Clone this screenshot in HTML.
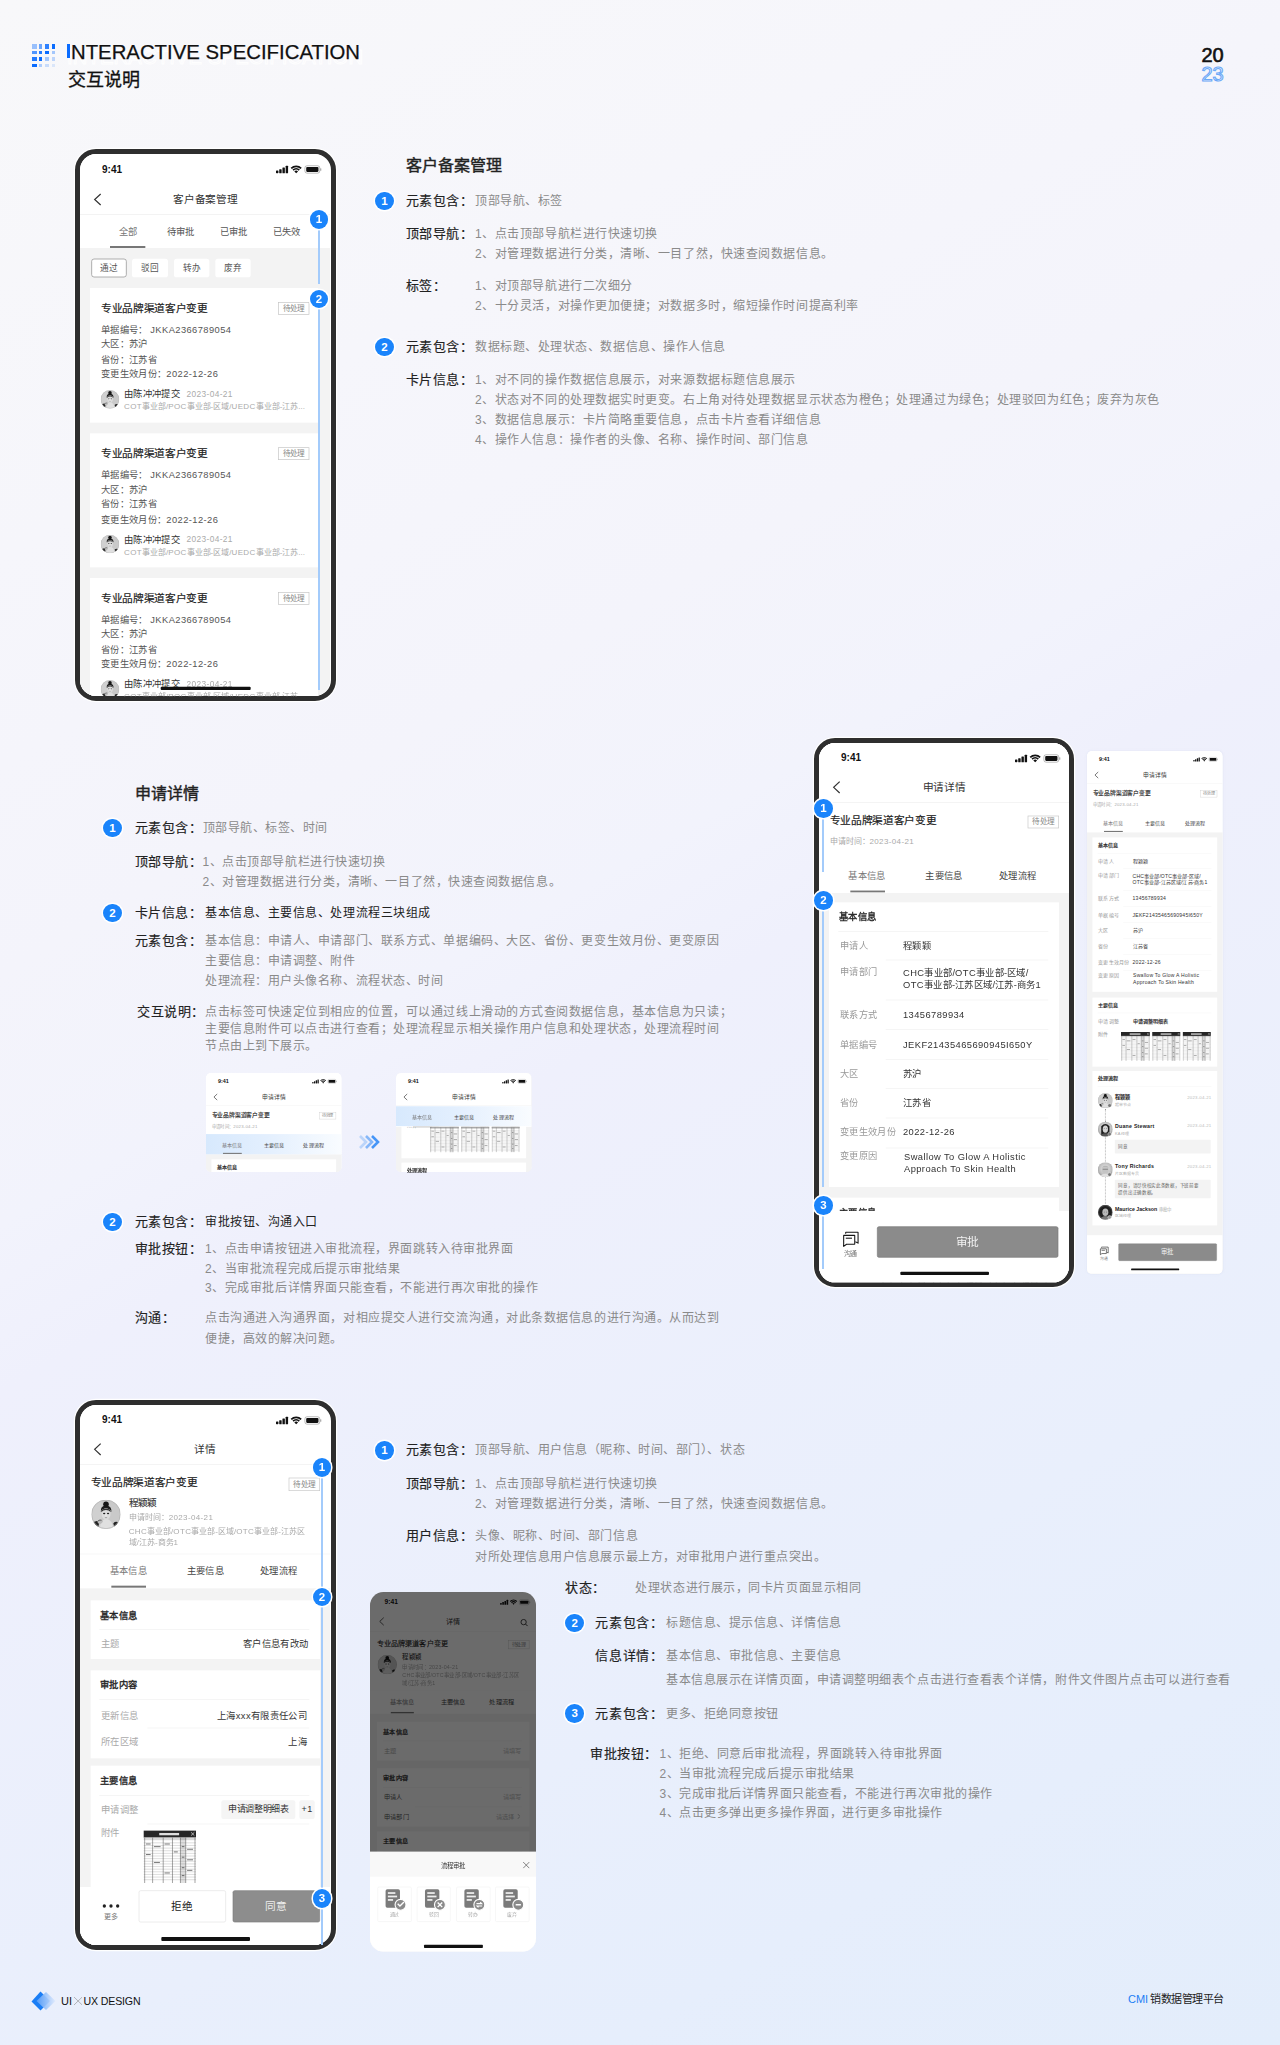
<!DOCTYPE html><html lang="zh-CN"><head><meta charset="utf-8"><style>
*{margin:0;padding:0;box-sizing:border-box}
html,body{width:1280px;height:2045px;overflow:hidden}
body{position:relative;font-family:"Liberation Sans",sans-serif;background:linear-gradient(150deg,rgb(248,248,250) 0%,rgb(246,246,251) 20%,rgb(244,244,251) 35%,rgb(242,243,252) 44%,rgb(239,240,252) 50%,rgb(233,239,252) 75%,rgb(230,238,252) 86%,rgb(227,237,251) 100%);}
body div, body svg{position:absolute;white-space:nowrap}
.scr{overflow:hidden;background:#fff}
.frame{border:5px solid #2e2e2e;box-shadow:0 0 0 1.2px rgba(255,255,255,.95)}
.bdg{border-radius:50%;background:#1a84fb;color:#fff;text-align:center;font-weight:700;font-family:"Liberation Sans",sans-serif;box-shadow:0 0 0 1.5px #fff}
.xls{background:
 linear-gradient(#2a2a2a,#2a2a2a) 0 0/100% 12% no-repeat,
 repeating-linear-gradient(0deg,#bbb 0 .5px,transparent .5px 3px),
 repeating-linear-gradient(90deg,#999 0 .6px,transparent .6px 9px),#fafafa;}
</style></head><body>
<svg style="width:0;height:0;position:absolute"><defs>
<radialGradient id="avbg" cx=".5" cy=".45" r=".6"><stop offset="0" stop-color="#f0f0f0"/><stop offset=".7" stop-color="#bdbdbd"/><stop offset="1" stop-color="#8a8a8a"/></radialGradient>
<clipPath id="avc"><circle cx="20" cy="20" r="20"/></clipPath>
<symbol id="av1" viewBox="0 0 40 40"><g clip-path="url(#avc)"><rect width="40" height="40" fill="#c9c9c9"/><rect x="0" y="0" width="14" height="40" fill="#d6d6d6" opacity=".6"/>
<path d="M0 40 L0 33 Q6 27 11 30 L9 40Z" fill="#222"/><path d="M40 40 L40 33 Q34 28 30 32 L32 40Z" fill="#222"/>
<path d="M12 40 Q12 27 20 26 Q29 27 30 40Z" fill="#e0e0e0"/>
<path d="M13 17 Q12 8 20 8 Q28 8 27.5 17 Q26 12 20 12 Q14 12 13 17Z" fill="#1c1c1c"/><circle cx="20" cy="6.2" r="3.8" fill="#151515"/>
<ellipse cx="20" cy="19.5" rx="6.2" ry="7.8" fill="#dcdcdc"/><path d="M13.5 17 Q14 12 20 12 Q26 12 26.5 17 Q24 14 20 14 Q16 14 13.5 17Z" fill="#333"/>
<ellipse cx="17.5" cy="19" rx="1.6" ry="1" fill="#222"/><ellipse cx="22.8" cy="19" rx="1.6" ry="1" fill="#222"/><path d="M20 20v3" stroke="#fff" stroke-width=".8"/><path d="M18.5 24.5h3" stroke="#777" stroke-width=".8"/>
<path d="M8 30 Q12 26 16 29 Q15 33 11 34Z" fill="#bdbdbd"/><path d="M9 29 Q12 27 14 28" stroke="#333" stroke-width="1" fill="none"/>
<circle cx="20" cy="20" r="19.6" fill="none" stroke="#aaa" stroke-width=".8"/></g></symbol>
<symbol id="av2" viewBox="0 0 40 40"><g clip-path="url(#avc)"><rect width="40" height="40" fill="#4a4a4a"/>
<circle cx="20" cy="20" r="17" fill="#1e1e1e"/><ellipse cx="20" cy="20" rx="8" ry="10" fill="#b8b8b8"/><path d="M6 40 Q10 30 20 30 Q30 30 34 40Z" fill="#777"/><ellipse cx="17" cy="19" rx="1.3" ry=".8" fill="#222"/><ellipse cx="23" cy="19" rx="1.3" ry=".8" fill="#222"/></g></symbol>
<symbol id="av3" viewBox="0 0 40 40"><g clip-path="url(#avc)"><rect width="40" height="40" fill="url(#avbg)"/>
<path d="M9 12 Q20 0 31 12 L31 36 Q20 30 9 36Z" fill="#1e1e1e"/><ellipse cx="20" cy="20" rx="7" ry="9.5" fill="#d4d4d4"/><path d="M5 40 Q10 31 20 31 Q30 31 35 40Z" fill="#555"/><ellipse cx="17" cy="19" rx="1.2" ry=".8" fill="#333"/><ellipse cx="23" cy="19" rx="1.2" ry=".8" fill="#333"/></g></symbol>
<symbol id="av4" viewBox="0 0 40 40"><g clip-path="url(#avc)"><rect width="40" height="40" fill="url(#avbg)"/>
<ellipse cx="20" cy="20" rx="9" ry="11" fill="#c4c4c4"/><path d="M11 15 Q20 6 29 15 Q25 11 20 11 Q15 11 11 15Z" fill="#888"/><path d="M13 19h14" stroke="#555" stroke-width="1.4"/><path d="M5 40 Q10 31 20 31 Q30 31 35 40Z" fill="#e0e0e0"/></g></symbol>
<symbol id="xls" viewBox="0 0 80 80" preserveAspectRatio="none"><rect width="80" height="80" fill="#fff"/><rect width="80" height="11" fill="#262626"/><rect x="24" y="4" width="30" height="3.5" fill="#ddd"/><path d="M72 3l5 5M77 3l-5 5" stroke="#eee" stroke-width="1"/>
<rect x="0" y="11" width="80" height="4" fill="#d8d8d8"/>
<g stroke="#9a9a9a" stroke-width=".5"><path d="M0 19H80M0 23H80M0 27H80M0 31H80M0 35H80M0 39H80M0 43H80M0 47H80M0 51H80M0 55H80M0 59H80M0 63H80M0 67H80M0 71H80M0 75H80"/></g>
<g stroke="#555" stroke-width=".8"><path d="M2 11V80M14 11V80M30 11V80M44 11V80M56 11V80M64 11V80M78 11V80"/></g>
<g fill="#777"><rect x="4" y="20" width="7" height="1.5"/><rect x="16" y="24" width="10" height="1.5"/><rect x="32" y="20" width="8" height="1.5"/><rect x="58" y="24" width="4" height="1.5"/><rect x="66" y="28" width="9" height="1.5"/><rect x="4" y="36" width="7" height="1.5"/><rect x="46" y="32" width="6" height="1.5"/><rect x="58" y="40" width="4" height="1.5"/><rect x="66" y="44" width="9" height="1.5"/><rect x="16" y="48" width="9" height="1.5"/><rect x="58" y="56" width="4" height="1.5"/><rect x="66" y="60" width="8" height="1.5"/><rect x="32" y="64" width="8" height="1.5"/><rect x="58" y="68" width="4" height="1.5"/></g>
<rect x="56" y="11" width="8" height="69" fill="#000" opacity=".12"/></symbol>
</defs></svg>
<div style="left:31.60px;top:44.00px;width:5.30px;height:4.90px;background:rgba(10,108,255,0.4);"></div>
<div style="left:39.10px;top:44.00px;width:2.65px;height:4.90px;background:rgba(10,108,255,0.6);"></div>
<div style="left:44.60px;top:44.00px;width:4.30px;height:4.90px;background:rgba(10,108,255,0.85);"></div>
<div style="left:52.00px;top:44.00px;width:2.60px;height:4.90px;background:rgba(10,108,255,1);"></div>
<div style="left:31.60px;top:51.25px;width:5.30px;height:2.50px;background:rgba(10,108,255,0.7);"></div>
<div style="left:39.10px;top:51.25px;width:2.65px;height:2.50px;background:rgba(10,108,255,0.9);"></div>
<div style="left:44.60px;top:51.25px;width:4.30px;height:2.50px;background:rgba(10,108,255,1);"></div>
<div style="left:52.00px;top:51.25px;width:2.60px;height:2.50px;background:rgba(10,108,255,0.35);"></div>
<div style="left:31.60px;top:56.90px;width:5.30px;height:4.10px;background:rgba(10,108,255,0.9);"></div>
<div style="left:39.10px;top:56.90px;width:2.65px;height:4.10px;background:rgba(10,108,255,1);"></div>
<div style="left:44.60px;top:56.90px;width:4.30px;height:4.10px;background:rgba(10,108,255,0.35);"></div>
<div style="left:52.00px;top:56.90px;width:2.60px;height:4.10px;background:rgba(10,108,255,0.25);"></div>
<div style="left:31.60px;top:64.00px;width:5.30px;height:2.75px;background:rgba(10,108,255,1);"></div>
<div style="left:39.10px;top:64.00px;width:2.65px;height:2.75px;background:rgba(10,108,255,0.3);"></div>
<div style="left:44.60px;top:64.00px;width:4.30px;height:2.75px;background:rgba(10,108,255,0.2);"></div>
<div style="left:52.00px;top:64.00px;width:2.60px;height:2.75px;background:rgba(10,108,255,0.12);"></div>
<div style="left:66.80px;top:44.40px;width:2.80px;height:14.10px;background:#0a6cff;"></div>
<div style="left:67.00px;top:44.50px;font-size:20.3px;line-height:24px;color:transparent;font-weight:400;letter-spacing:0.1px;-webkit-text-stroke:1px rgba(255,255,255,.9)">INTERACTIVE SPECIFICATION</div>
<div style="left:66.80px;top:44.40px;width:2.80px;height:14.10px;background:#0a6cff;"></div>
<div style="left:71.00px;top:39.50px;font-size:20.3px;line-height:24px;color:#111;font-weight:400;letter-spacing:0.04px;-webkit-text-stroke:.25px #111">NTERACTIVE SPECIFICATION</div>
<div style="left:67.50px;top:68.50px;font-size:18px;line-height:22px;color:#111;font-weight:400;-webkit-text-stroke:.3px #111">交互说明</div>
<div style="left:1201.50px;top:43.50px;font-size:20px;line-height:22px;color:#111;font-weight:400;-webkit-text-stroke:.6px #111">20</div>
<div style="left:1201.50px;top:63.00px;font-size:20px;line-height:22px;color:transparent;font-weight:400;-webkit-text-stroke:1.1px #6aa8f7">23</div>
<svg style="left:31px;top:1991px;width:26px;height:20px" viewBox="0 0 26 20"><defs><linearGradient id="lg1" x1="0" x2="1"><stop offset="0" stop-color="#5a9ff8"/><stop offset="1" stop-color="#dfeafd"/></linearGradient></defs><path d="M9.5 0.5 L19 10 L9.5 19.5 L0.5 10.5 Z" fill="#1b7ef5"/><path d="M15 1 L24.5 10 L15 19 L5.5 10 Z" fill="url(#lg1)" opacity=".9"/></svg>
<div style="left:61.00px;top:1994.00px;font-size:11px;line-height:14px;color:#111;font-weight:400;">UI</div>
<svg style="left:73.6px;top:1997px;width:8.2px;height:8px" viewBox="0 0 8.2 8"><path d="M0 0L8.2 8M8.2 0L0 8" stroke="#9a9a9a" stroke-width=".7"/></svg>
<div style="left:83.50px;top:1994.00px;font-size:10.6px;line-height:14px;color:#111;font-weight:400;letter-spacing:-.15px">UX DESIGN</div>
<div style="left:1128.00px;top:1992.00px;font-size:11px;line-height:14px;color:#1b7ef5;font-weight:400;">CMI</div>
<div style="left:1150.00px;top:1992.00px;font-size:11px;line-height:14px;color:#222;font-weight:400;letter-spacing:-.5px">销数据管理平台</div>
<div class="frame" style="left:75px;top:149px;width:261px;height:552px;border-radius:21px;background:#fff"></div>
<div style="left:80px;top:154px;width:375px;height:813px;transform:scale(0.66667);transform-origin:0 0;overflow:hidden;border-radius:24px;background:#fff">
<div style="left:33.00px;top:15.00px;font-size:15px;line-height:18px;color:#111;font-weight:700;">9:41</div>
<svg style="left:294.15px;top:16.80px;width:66.45px;height:12.08px;overflow:visible" viewBox="0 0 44 8"><g fill="#111"><rect x="0" y="5.1" width="2.4" height="2.7" rx=".6"/><rect x="3.2" y="3.8" width="2.4" height="4" rx=".5"/><rect x="6.4" y="2.1" width="2.4" height="5.7" rx=".5"/><rect x="9.6" y="0.5" width="2.4" height="7.3" rx=".5"/><path d="M18.21 6.06A2.6 2.6 0 0 1 21.89 6.06L20.05 7.9ZM16.37 4.22A5.2 5.2 0 0 1 23.73 4.22L22.52 5.43A3.5 3.5 0 0 0 17.58 5.43ZM14.53 2.38A7.8 7.8 0 0 1 25.57 2.38L24.36 3.59A6.1 6.1 0 0 0 15.74 3.59Z"/><rect x="30" y="1.7" width="12.2" height="4.8" rx="1"/></g><rect x="28.7" y="0.4" width="14.8" height="7.4" rx="2.2" fill="none" stroke="#111" stroke-opacity=".35" stroke-width=".8"/><rect x="44" y="2.9" width="1" height="2.4" rx=".5" fill="#111" opacity=".4"/></svg>
<svg style="left:22.00px;top:60.00px;width:9px;height:16.5px;overflow:visible" viewBox="0 0 9 16.5"><polyline points="9,0 0,8.25 9,16.5" fill="none" stroke="#333" stroke-width="1.8"/></svg>
<div style="left:188.00px;top:57.50px;font-size:16px;line-height:20px;color:#333;font-weight:400;transform:translateX(-50%);">客户备案管理</div>
<div style="left:0.00px;top:90.20px;width:375.00px;height:1.00px;background:#eee;"></div>
<div style="left:72.00px;top:106.50px;font-size:14px;line-height:18px;color:#777;font-weight:400;transform:translateX(-50%);">全部</div>
<div style="left:150.75px;top:106.50px;font-size:14px;line-height:18px;color:#555;font-weight:400;transform:translateX(-50%);">待审批</div>
<div style="left:230.50px;top:106.50px;font-size:14px;line-height:18px;color:#555;font-weight:400;transform:translateX(-50%);">已审批</div>
<div style="left:309.75px;top:106.50px;font-size:14px;line-height:18px;color:#555;font-weight:400;transform:translateX(-50%);">已失效</div>
<div style="left:45.00px;top:137.60px;width:52.50px;height:3.10px;background:#777;"></div>
<div style="left:0.00px;top:140.70px;width:375.00px;height:672.30px;background:#f3f3f3;"></div>
<div style="left:16.50px;top:156.50px;width:53.70px;height:28.90px;background:#fff;border:1.5px solid #8a8a8a;border-radius:4px"></div>
<div style="left:43.35px;top:163.00px;font-size:13px;line-height:16px;color:#555;font-weight:400;transform:translateX(-50%);">通过</div>
<div style="left:78.00px;top:156.50px;width:53.70px;height:28.90px;background:#fff;border-radius:4px"></div>
<div style="left:104.85px;top:163.00px;font-size:13px;line-height:16px;color:#555;font-weight:400;transform:translateX(-50%);">驳回</div>
<div style="left:140.50px;top:156.50px;width:53.70px;height:28.90px;background:#fff;border-radius:4px"></div>
<div style="left:167.35px;top:163.00px;font-size:13px;line-height:16px;color:#555;font-weight:400;transform:translateX(-50%);">转办</div>
<div style="left:202.50px;top:156.50px;width:53.70px;height:28.90px;background:#fff;border-radius:4px"></div>
<div style="left:229.35px;top:163.00px;font-size:13px;line-height:16px;color:#555;font-weight:400;transform:translateX(-50%);">废弃</div>
<div style="left:14.70px;top:201.00px;width:342.30px;height:201.60px;background:#fff;"></div>
<div style="left:31.50px;top:222.00px;font-size:16px;line-height:20px;color:#222;font-weight:400;-webkit-text-stroke:.3px #222">专业品牌渠道客户变更</div>
<div style="left:297.00px;top:222.00px;width:46.50px;height:19.00px;background:#fff;border:1.2px solid #c4c4c4"></div>
<div style="left:320.25px;top:224.50px;font-size:11.5px;line-height:14px;color:#888;font-weight:400;transform:translateX(-50%);">待处理</div>
<div style="left:31.50px;top:255.20px;font-size:14px;line-height:17px;color:#555;font-weight:400;white-space:pre">单据编号： <span style="letter-spacing:.045em">JKKA2366789054</span></div>
<div style="left:31.50px;top:277.40px;font-size:14px;line-height:17px;color:#555;font-weight:400;">大区：苏沪</div>
<div style="left:31.50px;top:299.90px;font-size:14px;line-height:17px;color:#555;font-weight:400;">省份：江苏省</div>
<div style="left:31.50px;top:322.10px;font-size:14px;line-height:17px;color:#555;font-weight:400;">变更生效月份：<span style="letter-spacing:.045em">2022-12-26</span></div>
<svg style="left:30.50px;top:353.50px;width:28px;height:28px" viewBox="0 0 40 40"><use href="#av1"/></svg>
<div style="left:66.00px;top:352.00px;font-size:14px;line-height:17px;color:#333;font-weight:400;">由陈冲冲提交</div>
<div style="left:159.75px;top:353.00px;font-size:12.5px;line-height:15px;color:#aaa;font-weight:400;"><span style="letter-spacing:.045em">2023-04-21</span></div>
<div style="left:66.00px;top:372.00px;font-size:12px;line-height:15px;color:#aaa;font-weight:400;"><span style="letter-spacing:.045em">COT</span>事业部/<span style="letter-spacing:.045em">POC</span>事业部-区域/<span style="letter-spacing:.045em">UEDC</span>事业部-江苏...</div>
<div style="left:14.70px;top:418.50px;width:342.30px;height:201.60px;background:#fff;"></div>
<div style="left:31.50px;top:439.50px;font-size:16px;line-height:20px;color:#222;font-weight:400;-webkit-text-stroke:.3px #222">专业品牌渠道客户变更</div>
<div style="left:297.00px;top:439.50px;width:46.50px;height:19.00px;background:#fff;border:1.2px solid #c4c4c4"></div>
<div style="left:320.25px;top:442.00px;font-size:11.5px;line-height:14px;color:#888;font-weight:400;transform:translateX(-50%);">待处理</div>
<div style="left:31.50px;top:472.70px;font-size:14px;line-height:17px;color:#555;font-weight:400;white-space:pre">单据编号： <span style="letter-spacing:.045em">JKKA2366789054</span></div>
<div style="left:31.50px;top:494.90px;font-size:14px;line-height:17px;color:#555;font-weight:400;">大区：苏沪</div>
<div style="left:31.50px;top:517.40px;font-size:14px;line-height:17px;color:#555;font-weight:400;">省份：江苏省</div>
<div style="left:31.50px;top:539.60px;font-size:14px;line-height:17px;color:#555;font-weight:400;">变更生效月份：<span style="letter-spacing:.045em">2022-12-26</span></div>
<svg style="left:30.50px;top:571.00px;width:28px;height:28px" viewBox="0 0 40 40"><use href="#av1"/></svg>
<div style="left:66.00px;top:569.50px;font-size:14px;line-height:17px;color:#333;font-weight:400;">由陈冲冲提交</div>
<div style="left:159.75px;top:570.50px;font-size:12.5px;line-height:15px;color:#aaa;font-weight:400;"><span style="letter-spacing:.045em">2023-04-21</span></div>
<div style="left:66.00px;top:589.50px;font-size:12px;line-height:15px;color:#aaa;font-weight:400;"><span style="letter-spacing:.045em">COT</span>事业部/<span style="letter-spacing:.045em">POC</span>事业部-区域/<span style="letter-spacing:.045em">UEDC</span>事业部-江苏...</div>
<div style="left:14.70px;top:636.00px;width:342.30px;height:201.60px;background:#fff;"></div>
<div style="left:31.50px;top:657.00px;font-size:16px;line-height:20px;color:#222;font-weight:400;-webkit-text-stroke:.3px #222">专业品牌渠道客户变更</div>
<div style="left:297.00px;top:657.00px;width:46.50px;height:19.00px;background:#fff;border:1.2px solid #c4c4c4"></div>
<div style="left:320.25px;top:659.50px;font-size:11.5px;line-height:14px;color:#888;font-weight:400;transform:translateX(-50%);">待处理</div>
<div style="left:31.50px;top:690.20px;font-size:14px;line-height:17px;color:#555;font-weight:400;white-space:pre">单据编号： <span style="letter-spacing:.045em">JKKA2366789054</span></div>
<div style="left:31.50px;top:712.40px;font-size:14px;line-height:17px;color:#555;font-weight:400;">大区：苏沪</div>
<div style="left:31.50px;top:734.90px;font-size:14px;line-height:17px;color:#555;font-weight:400;">省份：江苏省</div>
<div style="left:31.50px;top:757.10px;font-size:14px;line-height:17px;color:#555;font-weight:400;">变更生效月份：<span style="letter-spacing:.045em">2022-12-26</span></div>
<svg style="left:30.50px;top:788.50px;width:28px;height:28px" viewBox="0 0 40 40"><use href="#av1"/></svg>
<div style="left:66.00px;top:787.00px;font-size:14px;line-height:17px;color:#333;font-weight:400;">由陈冲冲提交</div>
<div style="left:159.75px;top:788.00px;font-size:12.5px;line-height:15px;color:#aaa;font-weight:400;"><span style="letter-spacing:.045em">2023-04-21</span></div>
<div style="left:66.00px;top:807.00px;font-size:12px;line-height:15px;color:#aaa;font-weight:400;"><span style="letter-spacing:.045em">COT</span>事业部/<span style="letter-spacing:.045em">POC</span>事业部-区域/<span style="letter-spacing:.045em">UEDC</span>事业部-江苏...</div>
<div style="left:121.00px;top:799.00px;width:134.50px;height:5.00px;background:#111;border-radius:1.5px"></div>
</div>
<div style="left:318.00px;top:228.00px;width:2px;height:55.50px;background:#a3cbfb"></div>
<div style="left:318.00px;top:309.00px;width:2px;height:381.00px;background:#a3cbfb"></div>
<div class="bdg" style="left:309.70px;top:210.40px;width:18.6px;height:18.6px;font-size:11.5px;line-height:18.6px">1</div>
<div class="bdg" style="left:309.70px;top:289.70px;width:18.6px;height:18.6px;font-size:11.5px;line-height:18.6px">2</div>
<div style="left:405.50px;top:155.00px;font-size:16px;line-height:22px;color:#222;font-weight:400;-webkit-text-stroke:.4px #222">客户备案管理</div>
<div class="bdg" style="left:375.10px;top:191.70px;width:18.6px;height:18.6px;font-size:11.5px;line-height:18.6px">1</div>
<div style="left:405.50px;top:192.00px;font-size:13px;line-height:18px;color:#222;font-weight:400;letter-spacing:.6px;-webkit-text-stroke:.15px #222">元素包含：</div>
<div style="left:475.00px;top:192.00px;font-size:12px;line-height:18px;color:#8a8a8a;font-weight:400;letter-spacing:.55px">顶部导航、标签</div>
<div style="left:405.50px;top:224.50px;font-size:13px;line-height:18px;color:#222;font-weight:400;letter-spacing:.6px;-webkit-text-stroke:.15px #222">顶部导航：</div>
<div style="left:475.00px;top:224.50px;font-size:12px;line-height:18px;color:#8a8a8a;font-weight:400;letter-spacing:.55px">1、点击顶部导航栏进行快速切换</div>
<div style="left:475.00px;top:244.50px;font-size:12px;line-height:18px;color:#8a8a8a;font-weight:400;letter-spacing:.55px">2、对管理数据进行分类，清晰、一目了然，快速查阅数据信息。</div>
<div style="left:405.50px;top:277.00px;font-size:13px;line-height:18px;color:#222;font-weight:400;letter-spacing:.6px;-webkit-text-stroke:.15px #222">标签：</div>
<div style="left:475.00px;top:277.00px;font-size:12px;line-height:18px;color:#8a8a8a;font-weight:400;letter-spacing:.55px">1、对顶部导航进行二次细分</div>
<div style="left:475.00px;top:297.00px;font-size:12px;line-height:18px;color:#8a8a8a;font-weight:400;letter-spacing:.55px">2、十分灵活，对操作更加便捷；对数据多时，缩短操作时间提高利率</div>
<div class="bdg" style="left:375.10px;top:337.70px;width:18.6px;height:18.6px;font-size:11.5px;line-height:18.6px">2</div>
<div style="left:405.50px;top:338.00px;font-size:13px;line-height:18px;color:#222;font-weight:400;letter-spacing:.6px;-webkit-text-stroke:.15px #222">元素包含：</div>
<div style="left:475.00px;top:338.00px;font-size:12px;line-height:18px;color:#8a8a8a;font-weight:400;letter-spacing:.55px">数据标题、处理状态、数据信息、操作人信息</div>
<div style="left:405.50px;top:371.00px;font-size:13px;line-height:18px;color:#222;font-weight:400;letter-spacing:.6px;-webkit-text-stroke:.15px #222">卡片信息：</div>
<div style="left:475.00px;top:371.00px;font-size:12px;line-height:18px;color:#8a8a8a;font-weight:400;letter-spacing:.55px">1、对不同的操作数据信息展示，对来源数据标题信息展示</div>
<div style="left:475.00px;top:391.00px;font-size:12px;line-height:18px;color:#8a8a8a;font-weight:400;letter-spacing:.55px">2、状态对不同的处理数据实时更变。右上角对待处理数据显示状态为橙色；处理通过为绿色；处理驳回为红色；废弃为灰色</div>
<div style="left:475.00px;top:411.00px;font-size:12px;line-height:18px;color:#8a8a8a;font-weight:400;letter-spacing:.55px">3、数据信息展示：卡片简略重要信息，点击卡片查看详细信息</div>
<div style="left:475.00px;top:431.00px;font-size:12px;line-height:18px;color:#8a8a8a;font-weight:400;letter-spacing:.55px">4、操作人信息：操作者的头像、名称、操作时间、部门信息</div>
<div class="frame" style="left:814px;top:738px;width:260px;height:549px;border-radius:21px;background:#fff"></div>
<div style="left:819.00px;top:743.00px;width:375px;height:808.5px;transform:scale(0.66667);transform-origin:0 0;overflow:hidden;border-radius:24px;background:#fff;">
<div style="left:0.00px;top:225.00px;width:375.00px;height:583.50px;background:#f3f3f3;"></div>
<div style="left:15.75px;top:107.00px;font-size:16px;line-height:20px;color:#222;font-weight:400;-webkit-text-stroke:.3px #222">专业品牌渠道客户变更</div>
<div style="left:312.75px;top:108.50px;width:47.00px;height:19.50px;background:#fff;border:1px solid #c8c8c8"></div>
<div style="left:336.25px;top:111.25px;font-size:11.5px;line-height:14px;color:#888;font-weight:400;transform:translateX(-50%);">待处理</div>
<div style="left:15.75px;top:139.50px;font-size:12px;line-height:15px;color:#aaa;font-weight:400;">申请时间：<span style="letter-spacing:.045em">2023-04-21</span></div>
<div style="left:0.00px;top:225.00px;width:375.00px;height:1221.00px;background:#f3f3f3;"></div>
<div style="left:15.00px;top:238.50px;width:345.00px;height:427.50px;background:#fff;"></div>
<div style="left:30.00px;top:251.40px;font-size:14px;line-height:18px;color:#222;font-weight:400;-webkit-text-stroke:.5px #222">基本信息</div>
<div style="left:28.50px;top:281.50px;width:315.00px;height:1.00px;background:#f0f0f0;"></div>
<div style="left:31.50px;top:296.00px;font-size:13.8px;line-height:17px;color:#999;font-weight:400;">申请人</div>
<div style="left:126.00px;top:296.00px;font-size:14px;line-height:17px;color:#333;font-weight:400;">程颖颖</div>
<div style="left:31.50px;top:335.00px;font-size:13.8px;line-height:17px;color:#999;font-weight:400;">申请部门</div>
<div style="left:126.00px;top:336.50px;font-size:14px;line-height:17px;color:#333;font-weight:400;"><span style="letter-spacing:.045em">CHC</span>事业部/<span style="letter-spacing:.045em">OTC</span>事业部-区域/</div>
<div style="left:126.00px;top:354.00px;font-size:14px;line-height:17px;color:#333;font-weight:400;"><span style="letter-spacing:.045em">OTC</span>事业部-江苏区域/江苏-商务<span style="letter-spacing:.045em">1</span></div>
<div style="left:31.50px;top:399.50px;font-size:13.8px;line-height:17px;color:#999;font-weight:400;">联系方式</div>
<div style="left:126.00px;top:399.50px;font-size:14px;line-height:17px;color:#333;font-weight:400;"><span style="letter-spacing:.045em">13456789934</span></div>
<div style="left:31.50px;top:444.50px;font-size:13.8px;line-height:17px;color:#999;font-weight:400;">单据编号</div>
<div style="left:126.00px;top:444.50px;font-size:14px;line-height:17px;color:#333;font-weight:400;"><span style="letter-spacing:.045em">JEKF21435465690945I650Y</span></div>
<div style="left:31.50px;top:488.00px;font-size:13.8px;line-height:17px;color:#999;font-weight:400;">大区</div>
<div style="left:126.00px;top:488.00px;font-size:14px;line-height:17px;color:#333;font-weight:400;">苏沪</div>
<div style="left:31.50px;top:532.25px;font-size:13.8px;line-height:17px;color:#999;font-weight:400;">省份</div>
<div style="left:126.00px;top:532.25px;font-size:14px;line-height:17px;color:#333;font-weight:400;">江苏省</div>
<div style="left:31.50px;top:575.00px;font-size:13.8px;line-height:17px;color:#999;font-weight:400;">变更生效月份</div>
<div style="left:126.00px;top:575.00px;font-size:14px;line-height:17px;color:#333;font-weight:400;"><span style="letter-spacing:.045em">2022-12-26</span></div>
<div style="left:31.50px;top:611.00px;font-size:13.8px;line-height:17px;color:#999;font-weight:400;">变更原因</div>
<div style="left:127.50px;top:612.50px;font-size:14px;line-height:17px;color:#333;font-weight:400;"><span style="letter-spacing:.045em">Swallow To Glow A Holistic</span></div>
<div style="left:127.50px;top:630.00px;font-size:14px;line-height:17px;color:#333;font-weight:400;"><span style="letter-spacing:.045em">Approach To Skin Health</span></div>
<div style="left:100.00px;top:325.00px;width:243.50px;height:1.00px;background:#f0f0f0;"></div>
<div style="left:100.00px;top:385.00px;width:243.50px;height:1.00px;background:#f0f0f0;"></div>
<div style="left:100.00px;top:428.50px;width:243.50px;height:1.00px;background:#f0f0f0;"></div>
<div style="left:100.00px;top:473.50px;width:243.50px;height:1.00px;background:#f0f0f0;"></div>
<div style="left:100.00px;top:517.90px;width:243.50px;height:1.00px;background:#f0f0f0;"></div>
<div style="left:100.00px;top:561.50px;width:243.50px;height:1.00px;background:#f0f0f0;"></div>
<div style="left:100.00px;top:606.50px;width:243.50px;height:1.00px;background:#f0f0f0;"></div>
<div style="left:15.00px;top:682.00px;width:345.00px;height:191.00px;background:#fff;"></div>
<div style="left:30.00px;top:694.80px;font-size:14px;line-height:18px;color:#222;font-weight:400;-webkit-text-stroke:.5px #222">主要信息</div>
<div style="left:28.50px;top:724.00px;width:315.00px;height:1.00px;background:#f0f0f0;"></div>
<div style="left:31.50px;top:738.20px;font-size:13.8px;line-height:17px;color:#999;font-weight:400;">申请调整</div>
<div style="left:126.40px;top:738.20px;font-size:14px;line-height:17px;color:#333;font-weight:700;">申请调整明细表</div>
<div style="left:31.50px;top:774.10px;font-size:13.8px;line-height:17px;color:#999;font-weight:400;">附件</div>
<svg style="left:94.00px;top:777.00px;width:80px;height:80px" viewBox="0 0 80 80" preserveAspectRatio="none"><use href="#xls"/></svg>
<svg style="left:180.00px;top:777.00px;width:79px;height:80px" viewBox="0 0 80 80" preserveAspectRatio="none"><use href="#xls"/></svg>
<svg style="left:264.40px;top:777.00px;width:78.60000000000002px;height:80px" viewBox="0 0 80 80" preserveAspectRatio="none"><use href="#xls"/></svg>
<div style="left:15.00px;top:884.50px;width:345.00px;height:427.50px;background:#fff;"></div>
<div style="left:30.00px;top:897.30px;font-size:14px;line-height:18px;color:#222;font-weight:400;-webkit-text-stroke:.5px #222">处理流程</div>
<div style="left:28.50px;top:927.50px;width:315.00px;height:1.00px;background:#f0f0f0;"></div>
<svg style="left:29.85px;top:945.95px;width:41.5px;height:41.5px" viewBox="0 0 40 40"><use href="#av1"/></svg>
<div style="left:57px;top:974.7px;width:11px;height:11px;border-radius:50%;background:#777;border:1.5px solid #fff"></div>
<div style="left:77.40px;top:949.00px;font-size:14.5px;line-height:18px;color:#222;font-weight:700;">程颖颖</div>
<div style="left:344.00px;top:950.50px;font-size:12px;line-height:15px;color:#bbb;font-weight:400;transform:translateX(-100%);"><span style="letter-spacing:.045em">2023-04-21</span></div>
<div style="left:77.40px;top:971.00px;font-size:11px;line-height:14px;color:#aaa;font-weight:400;">起草节点</div>
<svg style="left:29.85px;top:1025.25px;width:41.5px;height:41.5px" viewBox="0 0 40 40"><use href="#av3"/></svg>
<div style="left:57px;top:1054px;width:11px;height:11px;border-radius:50%;background:#777;border:1.5px solid #fff"></div>
<div style="left:77.40px;top:1028.30px;font-size:14.5px;line-height:18px;color:#222;font-weight:700;"><span style="letter-spacing:.045em">Duane Stewart</span></div>
<div style="left:344.00px;top:1029.80px;font-size:12px;line-height:15px;color:#bbb;font-weight:400;transform:translateX(-100%);"><span style="letter-spacing:.045em">2023-04-21</span></div>
<div style="left:77.40px;top:1050.30px;font-size:11px;line-height:14px;color:#aaa;font-weight:400;"><span style="letter-spacing:.045em">KA</span>经理</div>
<svg style="left:29.85px;top:1136.85px;width:41.5px;height:41.5px" viewBox="0 0 40 40"><use href="#av4"/></svg>
<div style="left:57px;top:1165.6px;width:11px;height:11px;border-radius:50%;background:#777;border:1.5px solid #fff"></div>
<div style="left:77.40px;top:1139.90px;font-size:14.5px;line-height:18px;color:#222;font-weight:700;"><span style="letter-spacing:.045em">Tony Richards</span></div>
<div style="left:344.00px;top:1141.40px;font-size:12px;line-height:15px;color:#bbb;font-weight:400;transform:translateX(-100%);"><span style="letter-spacing:.045em">2023-04-21</span></div>
<div style="left:77.40px;top:1161.90px;font-size:11px;line-height:14px;color:#aaa;font-weight:400;">片区数据专员</div>
<div style="left:49.6px;top:990px;width:0;height:36px;border-left:2px dotted #999"></div>
<div style="left:49.6px;top:1067px;width:0;height:70px;border-left:2px dotted #999"></div>
<div style="left:49.6px;top:1179px;width:0;height:74px;border-left:2px dotted #999"></div>
<div style="left:77.40px;top:1074.70px;width:264.60px;height:37.90px;background:#f3f3f3;border-radius:2px"></div>
<div style="left:87.00px;top:1086.10px;font-size:12.5px;line-height:15px;color:#666;font-weight:400;">同意</div>
<div style="left:77.40px;top:1186.00px;width:264.60px;height:51.00px;background:#f3f3f3;border-radius:2px"></div>
<div style="left:87.00px;top:1195.00px;font-size:12.5px;line-height:15px;color:#666;font-weight:400;">同意，请尽快核实此条数据，下班前要</div>
<div style="left:87.00px;top:1213.00px;font-size:12.5px;line-height:15px;color:#666;font-weight:400;">提供出正确数据。</div>
<svg style="left:29.85px;top:1254.85px;width:41.5px;height:41.5px" viewBox="0 0 40 40"><use href="#av2"/></svg>
<div style="left:57px;top:1283.6px;width:11px;height:11px;border-radius:50%;background:#999;border:1.5px solid #fff"></div>
<div style="left:77.40px;top:1257.60px;font-size:14.5px;line-height:18px;color:#222;font-weight:700;">Maurice Jackson <span style="font-weight:400;color:#aaa;font-size:12px">审批中</span></div>
<div style="left:77.40px;top:1279.00px;font-size:11px;line-height:14px;color:#aaa;font-weight:400;">区域经理</div>
<div style="left:0.00px;top:0.00px;width:375.00px;height:225.00px;background:#fff;"></div>
<div style="left:15.75px;top:107.00px;font-size:16px;line-height:20px;color:#222;font-weight:400;-webkit-text-stroke:.3px #222">专业品牌渠道客户变更</div>
<div style="left:312.75px;top:108.50px;width:47.00px;height:19.50px;background:#fff;border:1px solid #c8c8c8"></div>
<div style="left:336.25px;top:111.25px;font-size:11.5px;line-height:14px;color:#888;font-weight:400;transform:translateX(-50%);">待处理</div>
<div style="left:15.75px;top:139.50px;font-size:12px;line-height:15px;color:#aaa;font-weight:400;">申请时间：<span style="letter-spacing:.045em">2023-04-21</span></div>
<div style="left:33.00px;top:13.00px;font-size:15px;line-height:18px;color:#111;font-weight:700;">9:41</div>
<svg style="left:294.15px;top:16.80px;width:66.45px;height:12.08px;overflow:visible" viewBox="0 0 44 8"><g fill="#111"><rect x="0" y="5.1" width="2.4" height="2.7" rx=".6"/><rect x="3.2" y="3.8" width="2.4" height="4" rx=".5"/><rect x="6.4" y="2.1" width="2.4" height="5.7" rx=".5"/><rect x="9.6" y="0.5" width="2.4" height="7.3" rx=".5"/><path d="M18.21 6.06A2.6 2.6 0 0 1 21.89 6.06L20.05 7.9ZM16.37 4.22A5.2 5.2 0 0 1 23.73 4.22L22.52 5.43A3.5 3.5 0 0 0 17.58 5.43ZM14.53 2.38A7.8 7.8 0 0 1 25.57 2.38L24.36 3.59A6.1 6.1 0 0 0 15.74 3.59Z"/><rect x="30" y="1.7" width="12.2" height="4.8" rx="1"/></g><rect x="28.7" y="0.4" width="14.8" height="7.4" rx="2.2" fill="none" stroke="#111" stroke-opacity=".35" stroke-width=".8"/><rect x="44" y="2.9" width="1" height="2.4" rx=".5" fill="#111" opacity=".4"/></svg>
<svg style="left:22.00px;top:58.00px;width:9px;height:17px;overflow:visible" viewBox="0 0 9 17"><polyline points="9,0 0,8.5 9,17" fill="none" stroke="#333" stroke-width="1.8"/></svg>
<div style="left:187.50px;top:56.50px;font-size:16px;line-height:20px;color:#333;font-weight:400;transform:translateX(-50%);">申请详情</div>
<div style="left:0.00px;top:88.50px;width:375.00px;height:1.00px;background:#efefef;"></div>
<div style="left:72.00px;top:189.75px;font-size:14px;line-height:18px;color:#777;font-weight:400;transform:translateX(-50%);">基本信息</div>
<div style="left:187.50px;top:189.75px;font-size:14px;line-height:18px;color:#444;font-weight:400;transform:translateX(-50%);">主要信息</div>
<div style="left:297.75px;top:189.75px;font-size:14px;line-height:18px;color:#444;font-weight:400;transform:translateX(-50%);">处理流程</div>
<div style="left:46.50px;top:221.00px;width:52.50px;height:3.00px;background:#777;"></div>
<div style="left:0.00px;top:701.50px;width:375.00px;height:107.00px;background:#fff;"></div>
<svg style="left:35.5px;top:733.0px;width:23px;height:23.00px;overflow:visible" viewBox="0 0 23 23"><g fill="none" stroke="#151515" stroke-width="1.6" stroke-linejoin="round"><path d="M4 3V1.2Q4 .9 4.3 .9H22.3Q22.6 .9 22.6 1.2V17.2L18.6 15"/><path d="M1 5.8Q1 5.6 1.3 5.6H17.3Q17.6 5.6 17.6 5.9V18.5Q17.6 18.8 17.3 18.8H5.3L1 22Z" fill="#fff"/><path d="M4.2 9.8H13.5"/></g></svg>
<div style="left:47.00px;top:760.00px;font-size:10.5px;line-height:13px;color:#777;font-weight:400;transform:translateX(-50%);">沟通</div>
<div style="left:86.50px;top:724.50px;width:272.00px;height:47.50px;background:#8b8b8b;border:1px solid #7a7a7a;border-radius:3px"></div>
<div style="left:222.50px;top:738.00px;font-size:17.5px;line-height:20px;color:#f2f2f2;font-weight:400;transform:translateX(-50%);">审批</div>
<div style="left:121.50px;top:793.00px;width:133.50px;height:5.00px;background:#111;border-radius:1.5px"></div>
</div>
<div style="left:822.40px;top:817.00px;width:2px;height:55.00px;background:#a3cbfb"></div>
<div style="left:822.40px;top:909.00px;width:2px;height:278.00px;background:#a3cbfb"></div>
<div style="left:822.40px;top:1214.00px;width:2px;height:55.00px;background:#a3cbfb"></div>
<div class="bdg" style="left:814.10px;top:799.00px;width:18.6px;height:18.6px;font-size:11.5px;line-height:18.6px">1</div>
<div class="bdg" style="left:814.10px;top:891.30px;width:18.6px;height:18.6px;font-size:11.5px;line-height:18.6px">2</div>
<div class="bdg" style="left:814.10px;top:1196.40px;width:18.6px;height:18.6px;font-size:11.5px;line-height:18.6px">3</div>
<div style="left:1087.00px;top:751.00px;width:375px;height:1446px;transform:scale(0.36160);transform-origin:0 0;overflow:hidden;border-radius:14px;background:#fff;box-shadow:0 0 6px rgba(180,190,220,.25)">
<div style="left:0.00px;top:225.00px;width:375.00px;height:1221.00px;background:#f3f3f3;"></div>
<div style="left:15.75px;top:107.00px;font-size:16px;line-height:20px;color:#222;font-weight:400;-webkit-text-stroke:.3px #222">专业品牌渠道客户变更</div>
<div style="left:312.75px;top:108.50px;width:47.00px;height:19.50px;background:#fff;border:1px solid #c8c8c8"></div>
<div style="left:336.25px;top:111.25px;font-size:11.5px;line-height:14px;color:#888;font-weight:400;transform:translateX(-50%);">待处理</div>
<div style="left:15.75px;top:139.50px;font-size:12px;line-height:15px;color:#aaa;font-weight:400;">申请时间：<span style="letter-spacing:.045em">2023-04-21</span></div>
<div style="left:0.00px;top:225.00px;width:375.00px;height:1221.00px;background:#f3f3f3;"></div>
<div style="left:15.00px;top:238.50px;width:345.00px;height:427.50px;background:#fff;"></div>
<div style="left:30.00px;top:251.40px;font-size:14px;line-height:18px;color:#222;font-weight:400;-webkit-text-stroke:.5px #222">基本信息</div>
<div style="left:28.50px;top:281.50px;width:315.00px;height:1.00px;background:#f0f0f0;"></div>
<div style="left:31.50px;top:296.00px;font-size:13.8px;line-height:17px;color:#999;font-weight:400;">申请人</div>
<div style="left:126.00px;top:296.00px;font-size:14px;line-height:17px;color:#333;font-weight:400;">程颖颖</div>
<div style="left:31.50px;top:335.00px;font-size:13.8px;line-height:17px;color:#999;font-weight:400;">申请部门</div>
<div style="left:126.00px;top:336.50px;font-size:14px;line-height:17px;color:#333;font-weight:400;"><span style="letter-spacing:.045em">CHC</span>事业部/<span style="letter-spacing:.045em">OTC</span>事业部-区域/</div>
<div style="left:126.00px;top:354.00px;font-size:14px;line-height:17px;color:#333;font-weight:400;"><span style="letter-spacing:.045em">OTC</span>事业部-江苏区域/江苏-商务<span style="letter-spacing:.045em">1</span></div>
<div style="left:31.50px;top:399.50px;font-size:13.8px;line-height:17px;color:#999;font-weight:400;">联系方式</div>
<div style="left:126.00px;top:399.50px;font-size:14px;line-height:17px;color:#333;font-weight:400;"><span style="letter-spacing:.045em">13456789934</span></div>
<div style="left:31.50px;top:444.50px;font-size:13.8px;line-height:17px;color:#999;font-weight:400;">单据编号</div>
<div style="left:126.00px;top:444.50px;font-size:14px;line-height:17px;color:#333;font-weight:400;"><span style="letter-spacing:.045em">JEKF21435465690945I650Y</span></div>
<div style="left:31.50px;top:488.00px;font-size:13.8px;line-height:17px;color:#999;font-weight:400;">大区</div>
<div style="left:126.00px;top:488.00px;font-size:14px;line-height:17px;color:#333;font-weight:400;">苏沪</div>
<div style="left:31.50px;top:532.25px;font-size:13.8px;line-height:17px;color:#999;font-weight:400;">省份</div>
<div style="left:126.00px;top:532.25px;font-size:14px;line-height:17px;color:#333;font-weight:400;">江苏省</div>
<div style="left:31.50px;top:575.00px;font-size:13.8px;line-height:17px;color:#999;font-weight:400;">变更生效月份</div>
<div style="left:126.00px;top:575.00px;font-size:14px;line-height:17px;color:#333;font-weight:400;"><span style="letter-spacing:.045em">2022-12-26</span></div>
<div style="left:31.50px;top:611.00px;font-size:13.8px;line-height:17px;color:#999;font-weight:400;">变更原因</div>
<div style="left:127.50px;top:612.50px;font-size:14px;line-height:17px;color:#333;font-weight:400;"><span style="letter-spacing:.045em">Swallow To Glow A Holistic</span></div>
<div style="left:127.50px;top:630.00px;font-size:14px;line-height:17px;color:#333;font-weight:400;"><span style="letter-spacing:.045em">Approach To Skin Health</span></div>
<div style="left:100.00px;top:325.00px;width:243.50px;height:1.00px;background:#f0f0f0;"></div>
<div style="left:100.00px;top:385.00px;width:243.50px;height:1.00px;background:#f0f0f0;"></div>
<div style="left:100.00px;top:428.50px;width:243.50px;height:1.00px;background:#f0f0f0;"></div>
<div style="left:100.00px;top:473.50px;width:243.50px;height:1.00px;background:#f0f0f0;"></div>
<div style="left:100.00px;top:517.90px;width:243.50px;height:1.00px;background:#f0f0f0;"></div>
<div style="left:100.00px;top:561.50px;width:243.50px;height:1.00px;background:#f0f0f0;"></div>
<div style="left:100.00px;top:606.50px;width:243.50px;height:1.00px;background:#f0f0f0;"></div>
<div style="left:15.00px;top:682.00px;width:345.00px;height:191.00px;background:#fff;"></div>
<div style="left:30.00px;top:694.80px;font-size:14px;line-height:18px;color:#222;font-weight:400;-webkit-text-stroke:.5px #222">主要信息</div>
<div style="left:28.50px;top:724.00px;width:315.00px;height:1.00px;background:#f0f0f0;"></div>
<div style="left:31.50px;top:738.20px;font-size:13.8px;line-height:17px;color:#999;font-weight:400;">申请调整</div>
<div style="left:126.40px;top:738.20px;font-size:14px;line-height:17px;color:#333;font-weight:700;">申请调整明细表</div>
<div style="left:31.50px;top:774.10px;font-size:13.8px;line-height:17px;color:#999;font-weight:400;">附件</div>
<svg style="left:94.00px;top:777.00px;width:80px;height:80px" viewBox="0 0 80 80" preserveAspectRatio="none"><use href="#xls"/></svg>
<svg style="left:180.00px;top:777.00px;width:79px;height:80px" viewBox="0 0 80 80" preserveAspectRatio="none"><use href="#xls"/></svg>
<svg style="left:264.40px;top:777.00px;width:78.60000000000002px;height:80px" viewBox="0 0 80 80" preserveAspectRatio="none"><use href="#xls"/></svg>
<div style="left:15.00px;top:884.50px;width:345.00px;height:427.50px;background:#fff;"></div>
<div style="left:30.00px;top:897.30px;font-size:14px;line-height:18px;color:#222;font-weight:400;-webkit-text-stroke:.5px #222">处理流程</div>
<div style="left:28.50px;top:927.50px;width:315.00px;height:1.00px;background:#f0f0f0;"></div>
<svg style="left:29.85px;top:945.95px;width:41.5px;height:41.5px" viewBox="0 0 40 40"><use href="#av1"/></svg>
<div style="left:57px;top:974.7px;width:11px;height:11px;border-radius:50%;background:#777;border:1.5px solid #fff"></div>
<div style="left:77.40px;top:949.00px;font-size:14.5px;line-height:18px;color:#222;font-weight:700;">程颖颖</div>
<div style="left:344.00px;top:950.50px;font-size:12px;line-height:15px;color:#bbb;font-weight:400;transform:translateX(-100%);"><span style="letter-spacing:.045em">2023-04-21</span></div>
<div style="left:77.40px;top:971.00px;font-size:11px;line-height:14px;color:#aaa;font-weight:400;">起草节点</div>
<svg style="left:29.85px;top:1025.25px;width:41.5px;height:41.5px" viewBox="0 0 40 40"><use href="#av3"/></svg>
<div style="left:57px;top:1054px;width:11px;height:11px;border-radius:50%;background:#777;border:1.5px solid #fff"></div>
<div style="left:77.40px;top:1028.30px;font-size:14.5px;line-height:18px;color:#222;font-weight:700;"><span style="letter-spacing:.045em">Duane Stewart</span></div>
<div style="left:344.00px;top:1029.80px;font-size:12px;line-height:15px;color:#bbb;font-weight:400;transform:translateX(-100%);"><span style="letter-spacing:.045em">2023-04-21</span></div>
<div style="left:77.40px;top:1050.30px;font-size:11px;line-height:14px;color:#aaa;font-weight:400;"><span style="letter-spacing:.045em">KA</span>经理</div>
<svg style="left:29.85px;top:1136.85px;width:41.5px;height:41.5px" viewBox="0 0 40 40"><use href="#av4"/></svg>
<div style="left:57px;top:1165.6px;width:11px;height:11px;border-radius:50%;background:#777;border:1.5px solid #fff"></div>
<div style="left:77.40px;top:1139.90px;font-size:14.5px;line-height:18px;color:#222;font-weight:700;"><span style="letter-spacing:.045em">Tony Richards</span></div>
<div style="left:344.00px;top:1141.40px;font-size:12px;line-height:15px;color:#bbb;font-weight:400;transform:translateX(-100%);"><span style="letter-spacing:.045em">2023-04-21</span></div>
<div style="left:77.40px;top:1161.90px;font-size:11px;line-height:14px;color:#aaa;font-weight:400;">片区数据专员</div>
<div style="left:49.6px;top:990px;width:0;height:36px;border-left:2px dotted #999"></div>
<div style="left:49.6px;top:1067px;width:0;height:70px;border-left:2px dotted #999"></div>
<div style="left:49.6px;top:1179px;width:0;height:74px;border-left:2px dotted #999"></div>
<div style="left:77.40px;top:1074.70px;width:264.60px;height:37.90px;background:#f3f3f3;border-radius:2px"></div>
<div style="left:87.00px;top:1086.10px;font-size:12.5px;line-height:15px;color:#666;font-weight:400;">同意</div>
<div style="left:77.40px;top:1186.00px;width:264.60px;height:51.00px;background:#f3f3f3;border-radius:2px"></div>
<div style="left:87.00px;top:1195.00px;font-size:12.5px;line-height:15px;color:#666;font-weight:400;">同意，请尽快核实此条数据，下班前要</div>
<div style="left:87.00px;top:1213.00px;font-size:12.5px;line-height:15px;color:#666;font-weight:400;">提供出正确数据。</div>
<svg style="left:29.85px;top:1254.85px;width:41.5px;height:41.5px" viewBox="0 0 40 40"><use href="#av2"/></svg>
<div style="left:57px;top:1283.6px;width:11px;height:11px;border-radius:50%;background:#999;border:1.5px solid #fff"></div>
<div style="left:77.40px;top:1257.60px;font-size:14.5px;line-height:18px;color:#222;font-weight:700;">Maurice Jackson <span style="font-weight:400;color:#aaa;font-size:12px">审批中</span></div>
<div style="left:77.40px;top:1279.00px;font-size:11px;line-height:14px;color:#aaa;font-weight:400;">区域经理</div>
<div style="left:0.00px;top:0.00px;width:375.00px;height:225.00px;background:#fff;"></div>
<div style="left:15.75px;top:107.00px;font-size:16px;line-height:20px;color:#222;font-weight:400;-webkit-text-stroke:.3px #222">专业品牌渠道客户变更</div>
<div style="left:312.75px;top:108.50px;width:47.00px;height:19.50px;background:#fff;border:1px solid #c8c8c8"></div>
<div style="left:336.25px;top:111.25px;font-size:11.5px;line-height:14px;color:#888;font-weight:400;transform:translateX(-50%);">待处理</div>
<div style="left:15.75px;top:139.50px;font-size:12px;line-height:15px;color:#aaa;font-weight:400;">申请时间：<span style="letter-spacing:.045em">2023-04-21</span></div>
<div style="left:33.00px;top:13.00px;font-size:15px;line-height:18px;color:#111;font-weight:700;">9:41</div>
<svg style="left:294.15px;top:16.80px;width:66.45px;height:12.08px;overflow:visible" viewBox="0 0 44 8"><g fill="#111"><rect x="0" y="5.1" width="2.4" height="2.7" rx=".6"/><rect x="3.2" y="3.8" width="2.4" height="4" rx=".5"/><rect x="6.4" y="2.1" width="2.4" height="5.7" rx=".5"/><rect x="9.6" y="0.5" width="2.4" height="7.3" rx=".5"/><path d="M18.21 6.06A2.6 2.6 0 0 1 21.89 6.06L20.05 7.9ZM16.37 4.22A5.2 5.2 0 0 1 23.73 4.22L22.52 5.43A3.5 3.5 0 0 0 17.58 5.43ZM14.53 2.38A7.8 7.8 0 0 1 25.57 2.38L24.36 3.59A6.1 6.1 0 0 0 15.74 3.59Z"/><rect x="30" y="1.7" width="12.2" height="4.8" rx="1"/></g><rect x="28.7" y="0.4" width="14.8" height="7.4" rx="2.2" fill="none" stroke="#111" stroke-opacity=".35" stroke-width=".8"/><rect x="44" y="2.9" width="1" height="2.4" rx=".5" fill="#111" opacity=".4"/></svg>
<svg style="left:22.00px;top:58.00px;width:9px;height:17px;overflow:visible" viewBox="0 0 9 17"><polyline points="9,0 0,8.5 9,17" fill="none" stroke="#333" stroke-width="1.8"/></svg>
<div style="left:187.50px;top:56.50px;font-size:16px;line-height:20px;color:#333;font-weight:400;transform:translateX(-50%);">申请详情</div>
<div style="left:0.00px;top:88.50px;width:375.00px;height:1.00px;background:#efefef;"></div>
<div style="left:72.00px;top:189.75px;font-size:14px;line-height:18px;color:#777;font-weight:400;transform:translateX(-50%);">基本信息</div>
<div style="left:187.50px;top:189.75px;font-size:14px;line-height:18px;color:#444;font-weight:400;transform:translateX(-50%);">主要信息</div>
<div style="left:297.75px;top:189.75px;font-size:14px;line-height:18px;color:#444;font-weight:400;transform:translateX(-50%);">处理流程</div>
<div style="left:46.50px;top:221.00px;width:52.50px;height:3.00px;background:#777;"></div>
<div style="left:0.00px;top:1339.00px;width:375.00px;height:107.00px;background:#fff;"></div>
<svg style="left:35.5px;top:1370.5px;width:23px;height:23.00px;overflow:visible" viewBox="0 0 23 23"><g fill="none" stroke="#151515" stroke-width="1.6" stroke-linejoin="round"><path d="M4 3V1.2Q4 .9 4.3 .9H22.3Q22.6 .9 22.6 1.2V17.2L18.6 15"/><path d="M1 5.8Q1 5.6 1.3 5.6H17.3Q17.6 5.6 17.6 5.9V18.5Q17.6 18.8 17.3 18.8H5.3L1 22Z" fill="#fff"/><path d="M4.2 9.8H13.5"/></g></svg>
<div style="left:47.00px;top:1397.50px;font-size:10.5px;line-height:13px;color:#777;font-weight:400;transform:translateX(-50%);">沟通</div>
<div style="left:86.50px;top:1362.00px;width:272.00px;height:47.50px;background:#8b8b8b;border:1px solid #7a7a7a;border-radius:3px"></div>
<div style="left:222.50px;top:1375.50px;font-size:17.5px;line-height:20px;color:#f2f2f2;font-weight:400;transform:translateX(-50%);">审批</div>
<div style="left:121.50px;top:1430.50px;width:133.50px;height:5.00px;background:#111;border-radius:1.5px"></div>
</div>
<div style="left:205.50px;top:1073.00px;width:375px;height:274px;transform:scale(0.36133);transform-origin:0 0;overflow:hidden;border-radius:14px;background:#fff;">
<div style="left:0.00px;top:225.00px;width:375.00px;height:49.00px;background:#f3f3f3;"></div>
<div style="left:15.75px;top:107.00px;font-size:16px;line-height:20px;color:#222;font-weight:400;-webkit-text-stroke:.3px #222">专业品牌渠道客户变更</div>
<div style="left:312.75px;top:108.50px;width:47.00px;height:19.50px;background:#fff;border:1px solid #c8c8c8"></div>
<div style="left:336.25px;top:111.25px;font-size:11.5px;line-height:14px;color:#888;font-weight:400;transform:translateX(-50%);">待处理</div>
<div style="left:15.75px;top:139.50px;font-size:12px;line-height:15px;color:#aaa;font-weight:400;">申请时间：<span style="letter-spacing:.045em">2023-04-21</span></div>
<div style="left:0.00px;top:225.00px;width:375.00px;height:1221.00px;background:#f3f3f3;"></div>
<div style="left:15.00px;top:238.50px;width:345.00px;height:427.50px;background:#fff;"></div>
<div style="left:30.00px;top:251.40px;font-size:14px;line-height:18px;color:#222;font-weight:400;-webkit-text-stroke:.5px #222">基本信息</div>
<div style="left:28.50px;top:281.50px;width:315.00px;height:1.00px;background:#f0f0f0;"></div>
<div style="left:31.50px;top:296.00px;font-size:13.8px;line-height:17px;color:#999;font-weight:400;">申请人</div>
<div style="left:126.00px;top:296.00px;font-size:14px;line-height:17px;color:#333;font-weight:400;">程颖颖</div>
<div style="left:31.50px;top:335.00px;font-size:13.8px;line-height:17px;color:#999;font-weight:400;">申请部门</div>
<div style="left:126.00px;top:336.50px;font-size:14px;line-height:17px;color:#333;font-weight:400;"><span style="letter-spacing:.045em">CHC</span>事业部/<span style="letter-spacing:.045em">OTC</span>事业部-区域/</div>
<div style="left:126.00px;top:354.00px;font-size:14px;line-height:17px;color:#333;font-weight:400;"><span style="letter-spacing:.045em">OTC</span>事业部-江苏区域/江苏-商务<span style="letter-spacing:.045em">1</span></div>
<div style="left:31.50px;top:399.50px;font-size:13.8px;line-height:17px;color:#999;font-weight:400;">联系方式</div>
<div style="left:126.00px;top:399.50px;font-size:14px;line-height:17px;color:#333;font-weight:400;"><span style="letter-spacing:.045em">13456789934</span></div>
<div style="left:31.50px;top:444.50px;font-size:13.8px;line-height:17px;color:#999;font-weight:400;">单据编号</div>
<div style="left:126.00px;top:444.50px;font-size:14px;line-height:17px;color:#333;font-weight:400;"><span style="letter-spacing:.045em">JEKF21435465690945I650Y</span></div>
<div style="left:31.50px;top:488.00px;font-size:13.8px;line-height:17px;color:#999;font-weight:400;">大区</div>
<div style="left:126.00px;top:488.00px;font-size:14px;line-height:17px;color:#333;font-weight:400;">苏沪</div>
<div style="left:31.50px;top:532.25px;font-size:13.8px;line-height:17px;color:#999;font-weight:400;">省份</div>
<div style="left:126.00px;top:532.25px;font-size:14px;line-height:17px;color:#333;font-weight:400;">江苏省</div>
<div style="left:31.50px;top:575.00px;font-size:13.8px;line-height:17px;color:#999;font-weight:400;">变更生效月份</div>
<div style="left:126.00px;top:575.00px;font-size:14px;line-height:17px;color:#333;font-weight:400;"><span style="letter-spacing:.045em">2022-12-26</span></div>
<div style="left:31.50px;top:611.00px;font-size:13.8px;line-height:17px;color:#999;font-weight:400;">变更原因</div>
<div style="left:127.50px;top:612.50px;font-size:14px;line-height:17px;color:#333;font-weight:400;"><span style="letter-spacing:.045em">Swallow To Glow A Holistic</span></div>
<div style="left:127.50px;top:630.00px;font-size:14px;line-height:17px;color:#333;font-weight:400;"><span style="letter-spacing:.045em">Approach To Skin Health</span></div>
<div style="left:100.00px;top:325.00px;width:243.50px;height:1.00px;background:#f0f0f0;"></div>
<div style="left:100.00px;top:385.00px;width:243.50px;height:1.00px;background:#f0f0f0;"></div>
<div style="left:100.00px;top:428.50px;width:243.50px;height:1.00px;background:#f0f0f0;"></div>
<div style="left:100.00px;top:473.50px;width:243.50px;height:1.00px;background:#f0f0f0;"></div>
<div style="left:100.00px;top:517.90px;width:243.50px;height:1.00px;background:#f0f0f0;"></div>
<div style="left:100.00px;top:561.50px;width:243.50px;height:1.00px;background:#f0f0f0;"></div>
<div style="left:100.00px;top:606.50px;width:243.50px;height:1.00px;background:#f0f0f0;"></div>
<div style="left:15.00px;top:682.00px;width:345.00px;height:191.00px;background:#fff;"></div>
<div style="left:30.00px;top:694.80px;font-size:14px;line-height:18px;color:#222;font-weight:400;-webkit-text-stroke:.5px #222">主要信息</div>
<div style="left:28.50px;top:724.00px;width:315.00px;height:1.00px;background:#f0f0f0;"></div>
<div style="left:31.50px;top:738.20px;font-size:13.8px;line-height:17px;color:#999;font-weight:400;">申请调整</div>
<div style="left:126.40px;top:738.20px;font-size:14px;line-height:17px;color:#333;font-weight:700;">申请调整明细表</div>
<div style="left:31.50px;top:774.10px;font-size:13.8px;line-height:17px;color:#999;font-weight:400;">附件</div>
<svg style="left:94.00px;top:777.00px;width:80px;height:80px" viewBox="0 0 80 80" preserveAspectRatio="none"><use href="#xls"/></svg>
<svg style="left:180.00px;top:777.00px;width:79px;height:80px" viewBox="0 0 80 80" preserveAspectRatio="none"><use href="#xls"/></svg>
<svg style="left:264.40px;top:777.00px;width:78.60000000000002px;height:80px" viewBox="0 0 80 80" preserveAspectRatio="none"><use href="#xls"/></svg>
<div style="left:15.00px;top:884.50px;width:345.00px;height:427.50px;background:#fff;"></div>
<div style="left:30.00px;top:897.30px;font-size:14px;line-height:18px;color:#222;font-weight:400;-webkit-text-stroke:.5px #222">处理流程</div>
<div style="left:28.50px;top:927.50px;width:315.00px;height:1.00px;background:#f0f0f0;"></div>
<svg style="left:29.85px;top:945.95px;width:41.5px;height:41.5px" viewBox="0 0 40 40"><use href="#av1"/></svg>
<div style="left:57px;top:974.7px;width:11px;height:11px;border-radius:50%;background:#777;border:1.5px solid #fff"></div>
<div style="left:77.40px;top:949.00px;font-size:14.5px;line-height:18px;color:#222;font-weight:700;">程颖颖</div>
<div style="left:344.00px;top:950.50px;font-size:12px;line-height:15px;color:#bbb;font-weight:400;transform:translateX(-100%);"><span style="letter-spacing:.045em">2023-04-21</span></div>
<div style="left:77.40px;top:971.00px;font-size:11px;line-height:14px;color:#aaa;font-weight:400;">起草节点</div>
<svg style="left:29.85px;top:1025.25px;width:41.5px;height:41.5px" viewBox="0 0 40 40"><use href="#av3"/></svg>
<div style="left:57px;top:1054px;width:11px;height:11px;border-radius:50%;background:#777;border:1.5px solid #fff"></div>
<div style="left:77.40px;top:1028.30px;font-size:14.5px;line-height:18px;color:#222;font-weight:700;"><span style="letter-spacing:.045em">Duane Stewart</span></div>
<div style="left:344.00px;top:1029.80px;font-size:12px;line-height:15px;color:#bbb;font-weight:400;transform:translateX(-100%);"><span style="letter-spacing:.045em">2023-04-21</span></div>
<div style="left:77.40px;top:1050.30px;font-size:11px;line-height:14px;color:#aaa;font-weight:400;"><span style="letter-spacing:.045em">KA</span>经理</div>
<svg style="left:29.85px;top:1136.85px;width:41.5px;height:41.5px" viewBox="0 0 40 40"><use href="#av4"/></svg>
<div style="left:57px;top:1165.6px;width:11px;height:11px;border-radius:50%;background:#777;border:1.5px solid #fff"></div>
<div style="left:77.40px;top:1139.90px;font-size:14.5px;line-height:18px;color:#222;font-weight:700;"><span style="letter-spacing:.045em">Tony Richards</span></div>
<div style="left:344.00px;top:1141.40px;font-size:12px;line-height:15px;color:#bbb;font-weight:400;transform:translateX(-100%);"><span style="letter-spacing:.045em">2023-04-21</span></div>
<div style="left:77.40px;top:1161.90px;font-size:11px;line-height:14px;color:#aaa;font-weight:400;">片区数据专员</div>
<div style="left:49.6px;top:990px;width:0;height:36px;border-left:2px dotted #999"></div>
<div style="left:49.6px;top:1067px;width:0;height:70px;border-left:2px dotted #999"></div>
<div style="left:49.6px;top:1179px;width:0;height:74px;border-left:2px dotted #999"></div>
<div style="left:77.40px;top:1074.70px;width:264.60px;height:37.90px;background:#f3f3f3;border-radius:2px"></div>
<div style="left:87.00px;top:1086.10px;font-size:12.5px;line-height:15px;color:#666;font-weight:400;">同意</div>
<div style="left:77.40px;top:1186.00px;width:264.60px;height:51.00px;background:#f3f3f3;border-radius:2px"></div>
<div style="left:87.00px;top:1195.00px;font-size:12.5px;line-height:15px;color:#666;font-weight:400;">同意，请尽快核实此条数据，下班前要</div>
<div style="left:87.00px;top:1213.00px;font-size:12.5px;line-height:15px;color:#666;font-weight:400;">提供出正确数据。</div>
<svg style="left:29.85px;top:1254.85px;width:41.5px;height:41.5px" viewBox="0 0 40 40"><use href="#av2"/></svg>
<div style="left:57px;top:1283.6px;width:11px;height:11px;border-radius:50%;background:#999;border:1.5px solid #fff"></div>
<div style="left:77.40px;top:1257.60px;font-size:14.5px;line-height:18px;color:#222;font-weight:700;">Maurice Jackson <span style="font-weight:400;color:#aaa;font-size:12px">审批中</span></div>
<div style="left:77.40px;top:1279.00px;font-size:11px;line-height:14px;color:#aaa;font-weight:400;">区域经理</div>
<div style="left:0.00px;top:0.00px;width:375.00px;height:225.00px;background:#fff;"></div>
<div style="left:15.75px;top:107.00px;font-size:16px;line-height:20px;color:#222;font-weight:400;-webkit-text-stroke:.3px #222">专业品牌渠道客户变更</div>
<div style="left:312.75px;top:108.50px;width:47.00px;height:19.50px;background:#fff;border:1px solid #c8c8c8"></div>
<div style="left:336.25px;top:111.25px;font-size:11.5px;line-height:14px;color:#888;font-weight:400;transform:translateX(-50%);">待处理</div>
<div style="left:15.75px;top:139.50px;font-size:12px;line-height:15px;color:#aaa;font-weight:400;">申请时间：<span style="letter-spacing:.045em">2023-04-21</span></div>
<div style="left:33.00px;top:13.00px;font-size:15px;line-height:18px;color:#111;font-weight:700;">9:41</div>
<svg style="left:294.15px;top:16.80px;width:66.45px;height:12.08px;overflow:visible" viewBox="0 0 44 8"><g fill="#111"><rect x="0" y="5.1" width="2.4" height="2.7" rx=".6"/><rect x="3.2" y="3.8" width="2.4" height="4" rx=".5"/><rect x="6.4" y="2.1" width="2.4" height="5.7" rx=".5"/><rect x="9.6" y="0.5" width="2.4" height="7.3" rx=".5"/><path d="M18.21 6.06A2.6 2.6 0 0 1 21.89 6.06L20.05 7.9ZM16.37 4.22A5.2 5.2 0 0 1 23.73 4.22L22.52 5.43A3.5 3.5 0 0 0 17.58 5.43ZM14.53 2.38A7.8 7.8 0 0 1 25.57 2.38L24.36 3.59A6.1 6.1 0 0 0 15.74 3.59Z"/><rect x="30" y="1.7" width="12.2" height="4.8" rx="1"/></g><rect x="28.7" y="0.4" width="14.8" height="7.4" rx="2.2" fill="none" stroke="#111" stroke-opacity=".35" stroke-width=".8"/><rect x="44" y="2.9" width="1" height="2.4" rx=".5" fill="#111" opacity=".4"/></svg>
<svg style="left:22.00px;top:58.00px;width:9px;height:17px;overflow:visible" viewBox="0 0 9 17"><polyline points="9,0 0,8.5 9,17" fill="none" stroke="#333" stroke-width="1.8"/></svg>
<div style="left:187.50px;top:56.50px;font-size:16px;line-height:20px;color:#333;font-weight:400;transform:translateX(-50%);">申请详情</div>
<div style="left:0.00px;top:88.50px;width:375.00px;height:1.00px;background:#efefef;"></div>
<div style="left:0.00px;top:168.75px;width:375.00px;height:56.00px;background:linear-gradient(90deg,#d7e9fd 0%,#e3effe 45%,#f9fcff 100%);"></div>
<div style="left:72.00px;top:189.75px;font-size:14px;line-height:18px;color:#777;font-weight:400;transform:translateX(-50%);">基本信息</div>
<div style="left:187.50px;top:189.75px;font-size:14px;line-height:18px;color:#444;font-weight:400;transform:translateX(-50%);">主要信息</div>
<div style="left:297.75px;top:189.75px;font-size:14px;line-height:18px;color:#444;font-weight:400;transform:translateX(-50%);">处理流程</div>
<div style="left:46.50px;top:221.00px;width:52.50px;height:3.00px;background:#777;"></div>
</div>
<div style="left:396.00px;top:1073.00px;width:375px;height:274px;transform:scale(0.36133);transform-origin:0 0;overflow:hidden;border-radius:14px;background:#f3f3f3;">
<div style="left:0.00px;top:225.00px;width:375.00px;height:49.00px;background:#f3f3f3;"></div>
<div style="left:15.75px;top:-530.00px;font-size:16px;line-height:20px;color:#222;font-weight:400;-webkit-text-stroke:.3px #222">专业品牌渠道客户变更</div>
<div style="left:312.75px;top:-528.50px;width:47.00px;height:19.50px;background:#fff;border:1px solid #c8c8c8"></div>
<div style="left:336.25px;top:-525.75px;font-size:11.5px;line-height:14px;color:#888;font-weight:400;transform:translateX(-50%);">待处理</div>
<div style="left:15.75px;top:-497.50px;font-size:12px;line-height:15px;color:#aaa;font-weight:400;">申请时间：<span style="letter-spacing:.045em">2023-04-21</span></div>
<div style="left:0.00px;top:-412.00px;width:375.00px;height:1221.00px;background:#f3f3f3;"></div>
<div style="left:15.00px;top:-398.50px;width:345.00px;height:427.50px;background:#fff;"></div>
<div style="left:30.00px;top:-385.60px;font-size:14px;line-height:18px;color:#222;font-weight:400;-webkit-text-stroke:.5px #222">基本信息</div>
<div style="left:28.50px;top:-355.50px;width:315.00px;height:1.00px;background:#f0f0f0;"></div>
<div style="left:31.50px;top:-341.00px;font-size:13.8px;line-height:17px;color:#999;font-weight:400;">申请人</div>
<div style="left:126.00px;top:-341.00px;font-size:14px;line-height:17px;color:#333;font-weight:400;">程颖颖</div>
<div style="left:31.50px;top:-302.00px;font-size:13.8px;line-height:17px;color:#999;font-weight:400;">申请部门</div>
<div style="left:126.00px;top:-300.50px;font-size:14px;line-height:17px;color:#333;font-weight:400;"><span style="letter-spacing:.045em">CHC</span>事业部/<span style="letter-spacing:.045em">OTC</span>事业部-区域/</div>
<div style="left:126.00px;top:-283.00px;font-size:14px;line-height:17px;color:#333;font-weight:400;"><span style="letter-spacing:.045em">OTC</span>事业部-江苏区域/江苏-商务<span style="letter-spacing:.045em">1</span></div>
<div style="left:31.50px;top:-237.50px;font-size:13.8px;line-height:17px;color:#999;font-weight:400;">联系方式</div>
<div style="left:126.00px;top:-237.50px;font-size:14px;line-height:17px;color:#333;font-weight:400;"><span style="letter-spacing:.045em">13456789934</span></div>
<div style="left:31.50px;top:-192.50px;font-size:13.8px;line-height:17px;color:#999;font-weight:400;">单据编号</div>
<div style="left:126.00px;top:-192.50px;font-size:14px;line-height:17px;color:#333;font-weight:400;"><span style="letter-spacing:.045em">JEKF21435465690945I650Y</span></div>
<div style="left:31.50px;top:-149.00px;font-size:13.8px;line-height:17px;color:#999;font-weight:400;">大区</div>
<div style="left:126.00px;top:-149.00px;font-size:14px;line-height:17px;color:#333;font-weight:400;">苏沪</div>
<div style="left:31.50px;top:-104.75px;font-size:13.8px;line-height:17px;color:#999;font-weight:400;">省份</div>
<div style="left:126.00px;top:-104.75px;font-size:14px;line-height:17px;color:#333;font-weight:400;">江苏省</div>
<div style="left:31.50px;top:-62.00px;font-size:13.8px;line-height:17px;color:#999;font-weight:400;">变更生效月份</div>
<div style="left:126.00px;top:-62.00px;font-size:14px;line-height:17px;color:#333;font-weight:400;"><span style="letter-spacing:.045em">2022-12-26</span></div>
<div style="left:31.50px;top:-26.00px;font-size:13.8px;line-height:17px;color:#999;font-weight:400;">变更原因</div>
<div style="left:127.50px;top:-24.50px;font-size:14px;line-height:17px;color:#333;font-weight:400;"><span style="letter-spacing:.045em">Swallow To Glow A Holistic</span></div>
<div style="left:127.50px;top:-7.00px;font-size:14px;line-height:17px;color:#333;font-weight:400;"><span style="letter-spacing:.045em">Approach To Skin Health</span></div>
<div style="left:100.00px;top:-312.00px;width:243.50px;height:1.00px;background:#f0f0f0;"></div>
<div style="left:100.00px;top:-252.00px;width:243.50px;height:1.00px;background:#f0f0f0;"></div>
<div style="left:100.00px;top:-208.50px;width:243.50px;height:1.00px;background:#f0f0f0;"></div>
<div style="left:100.00px;top:-163.50px;width:243.50px;height:1.00px;background:#f0f0f0;"></div>
<div style="left:100.00px;top:-119.10px;width:243.50px;height:1.00px;background:#f0f0f0;"></div>
<div style="left:100.00px;top:-75.50px;width:243.50px;height:1.00px;background:#f0f0f0;"></div>
<div style="left:100.00px;top:-30.50px;width:243.50px;height:1.00px;background:#f0f0f0;"></div>
<div style="left:15.00px;top:45.00px;width:345.00px;height:191.00px;background:#fff;"></div>
<div style="left:30.00px;top:57.80px;font-size:14px;line-height:18px;color:#222;font-weight:400;-webkit-text-stroke:.5px #222">主要信息</div>
<div style="left:28.50px;top:87.00px;width:315.00px;height:1.00px;background:#f0f0f0;"></div>
<div style="left:31.50px;top:101.20px;font-size:13.8px;line-height:17px;color:#999;font-weight:400;">申请调整</div>
<div style="left:126.40px;top:101.20px;font-size:14px;line-height:17px;color:#333;font-weight:700;">申请调整明细表</div>
<div style="left:31.50px;top:137.10px;font-size:13.8px;line-height:17px;color:#999;font-weight:400;">附件</div>
<svg style="left:94.00px;top:140.00px;width:80px;height:80px" viewBox="0 0 80 80" preserveAspectRatio="none"><use href="#xls"/></svg>
<svg style="left:180.00px;top:140.00px;width:79px;height:80px" viewBox="0 0 80 80" preserveAspectRatio="none"><use href="#xls"/></svg>
<svg style="left:264.40px;top:140.00px;width:78.60000000000002px;height:80px" viewBox="0 0 80 80" preserveAspectRatio="none"><use href="#xls"/></svg>
<div style="left:15.00px;top:247.50px;width:345.00px;height:427.50px;background:#fff;"></div>
<div style="left:30.00px;top:260.30px;font-size:14px;line-height:18px;color:#222;font-weight:400;-webkit-text-stroke:.5px #222">处理流程</div>
<div style="left:28.50px;top:290.50px;width:315.00px;height:1.00px;background:#f0f0f0;"></div>
<svg style="left:29.85px;top:308.95px;width:41.5px;height:41.5px" viewBox="0 0 40 40"><use href="#av1"/></svg>
<div style="left:57px;top:974.7px;width:11px;height:11px;border-radius:50%;background:#777;border:1.5px solid #fff"></div>
<div style="left:77.40px;top:312.00px;font-size:14.5px;line-height:18px;color:#222;font-weight:700;">程颖颖</div>
<div style="left:344.00px;top:313.50px;font-size:12px;line-height:15px;color:#bbb;font-weight:400;transform:translateX(-100%);"><span style="letter-spacing:.045em">2023-04-21</span></div>
<div style="left:77.40px;top:334.00px;font-size:11px;line-height:14px;color:#aaa;font-weight:400;">起草节点</div>
<svg style="left:29.85px;top:388.25px;width:41.5px;height:41.5px" viewBox="0 0 40 40"><use href="#av3"/></svg>
<div style="left:57px;top:1054px;width:11px;height:11px;border-radius:50%;background:#777;border:1.5px solid #fff"></div>
<div style="left:77.40px;top:391.30px;font-size:14.5px;line-height:18px;color:#222;font-weight:700;"><span style="letter-spacing:.045em">Duane Stewart</span></div>
<div style="left:344.00px;top:392.80px;font-size:12px;line-height:15px;color:#bbb;font-weight:400;transform:translateX(-100%);"><span style="letter-spacing:.045em">2023-04-21</span></div>
<div style="left:77.40px;top:413.30px;font-size:11px;line-height:14px;color:#aaa;font-weight:400;"><span style="letter-spacing:.045em">KA</span>经理</div>
<svg style="left:29.85px;top:499.85px;width:41.5px;height:41.5px" viewBox="0 0 40 40"><use href="#av4"/></svg>
<div style="left:57px;top:1165.6px;width:11px;height:11px;border-radius:50%;background:#777;border:1.5px solid #fff"></div>
<div style="left:77.40px;top:502.90px;font-size:14.5px;line-height:18px;color:#222;font-weight:700;"><span style="letter-spacing:.045em">Tony Richards</span></div>
<div style="left:344.00px;top:504.40px;font-size:12px;line-height:15px;color:#bbb;font-weight:400;transform:translateX(-100%);"><span style="letter-spacing:.045em">2023-04-21</span></div>
<div style="left:77.40px;top:524.90px;font-size:11px;line-height:14px;color:#aaa;font-weight:400;">片区数据专员</div>
<div style="left:49.6px;top:990px;width:0;height:36px;border-left:2px dotted #999"></div>
<div style="left:49.6px;top:1067px;width:0;height:70px;border-left:2px dotted #999"></div>
<div style="left:49.6px;top:1179px;width:0;height:74px;border-left:2px dotted #999"></div>
<div style="left:77.40px;top:437.70px;width:264.60px;height:37.90px;background:#f3f3f3;border-radius:2px"></div>
<div style="left:87.00px;top:449.10px;font-size:12.5px;line-height:15px;color:#666;font-weight:400;">同意</div>
<div style="left:77.40px;top:549.00px;width:264.60px;height:51.00px;background:#f3f3f3;border-radius:2px"></div>
<div style="left:87.00px;top:558.00px;font-size:12.5px;line-height:15px;color:#666;font-weight:400;">同意，请尽快核实此条数据，下班前要</div>
<div style="left:87.00px;top:576.00px;font-size:12.5px;line-height:15px;color:#666;font-weight:400;">提供出正确数据。</div>
<svg style="left:29.85px;top:617.85px;width:41.5px;height:41.5px" viewBox="0 0 40 40"><use href="#av2"/></svg>
<div style="left:57px;top:1283.6px;width:11px;height:11px;border-radius:50%;background:#999;border:1.5px solid #fff"></div>
<div style="left:77.40px;top:620.60px;font-size:14.5px;line-height:18px;color:#222;font-weight:700;">Maurice Jackson <span style="font-weight:400;color:#aaa;font-size:12px">审批中</span></div>
<div style="left:77.40px;top:642.00px;font-size:11px;line-height:14px;color:#aaa;font-weight:400;">区域经理</div>
<div style="left:0.00px;top:0.00px;width:375.00px;height:147.00px;background:#fff;"></div>
<div style="left:33.00px;top:13.00px;font-size:15px;line-height:18px;color:#111;font-weight:700;">9:41</div>
<svg style="left:294.15px;top:16.80px;width:66.45px;height:12.08px;overflow:visible" viewBox="0 0 44 8"><g fill="#111"><rect x="0" y="5.1" width="2.4" height="2.7" rx=".6"/><rect x="3.2" y="3.8" width="2.4" height="4" rx=".5"/><rect x="6.4" y="2.1" width="2.4" height="5.7" rx=".5"/><rect x="9.6" y="0.5" width="2.4" height="7.3" rx=".5"/><path d="M18.21 6.06A2.6 2.6 0 0 1 21.89 6.06L20.05 7.9ZM16.37 4.22A5.2 5.2 0 0 1 23.73 4.22L22.52 5.43A3.5 3.5 0 0 0 17.58 5.43ZM14.53 2.38A7.8 7.8 0 0 1 25.57 2.38L24.36 3.59A6.1 6.1 0 0 0 15.74 3.59Z"/><rect x="30" y="1.7" width="12.2" height="4.8" rx="1"/></g><rect x="28.7" y="0.4" width="14.8" height="7.4" rx="2.2" fill="none" stroke="#111" stroke-opacity=".35" stroke-width=".8"/><rect x="44" y="2.9" width="1" height="2.4" rx=".5" fill="#111" opacity=".4"/></svg>
<svg style="left:22.00px;top:58.00px;width:9px;height:17px;overflow:visible" viewBox="0 0 9 17"><polyline points="9,0 0,8.5 9,17" fill="none" stroke="#333" stroke-width="1.8"/></svg>
<div style="left:187.50px;top:56.50px;font-size:16px;line-height:20px;color:#333;font-weight:400;transform:translateX(-50%);">申请详情</div>
<div style="left:0.00px;top:88.50px;width:375.00px;height:1.00px;background:#efefef;"></div>
<div style="left:0.00px;top:92.00px;width:375.00px;height:56.00px;background:linear-gradient(90deg,#d7e9fd 0%,#e3effe 45%,#f9fcff 100%);"></div>
<div style="left:72.00px;top:113.00px;font-size:14px;line-height:18px;color:#777;font-weight:400;transform:translateX(-50%);">基本信息</div>
<div style="left:187.50px;top:113.00px;font-size:14px;line-height:18px;color:#444;font-weight:400;transform:translateX(-50%);">主要信息</div>
<div style="left:297.75px;top:113.00px;font-size:14px;line-height:18px;color:#444;font-weight:400;transform:translateX(-50%);">处理流程</div>
<div style="left:46.50px;top:147.00px;width:52.50px;height:3.00px;background:#777;"></div>
<div style="left:0.00px;top:147.00px;width:375.00px;height:2.00px;background:#fff;"></div>
</div>
<svg style="left:359px;top:1135px;width:23px;height:14px" viewBox="0 0 23 14"><g fill="none" stroke-width="2.6"><polyline points="1,1 7,7 1,13" stroke="#1b7ef5" stroke-opacity=".25"/><polyline points="7,1 13,7 7,13" stroke="#1b7ef5" stroke-opacity=".5"/><polyline points="13,1 19,7 13,13" stroke="#1b7ef5" stroke-opacity=".8"/></g></svg>
<div style="left:134.50px;top:782.50px;font-size:16px;line-height:22px;color:#222;font-weight:400;-webkit-text-stroke:.4px #222">申请详情</div>
<div class="bdg" style="left:103.20px;top:818.70px;width:18.6px;height:18.6px;font-size:11.5px;line-height:18.6px">1</div>
<div style="left:134.50px;top:819.00px;font-size:13px;line-height:18px;color:#222;font-weight:400;letter-spacing:.6px;-webkit-text-stroke:.15px #222">元素包含：</div>
<div style="left:202.50px;top:819.00px;font-size:12px;line-height:18px;color:#8a8a8a;font-weight:400;letter-spacing:.55px">顶部导航、标签、时间</div>
<div style="left:134.50px;top:852.50px;font-size:13px;line-height:18px;color:#222;font-weight:400;letter-spacing:.6px;-webkit-text-stroke:.15px #222">顶部导航：</div>
<div style="left:202.50px;top:852.50px;font-size:12px;line-height:18px;color:#8a8a8a;font-weight:400;letter-spacing:.55px">1、点击顶部导航栏进行快速切换</div>
<div style="left:202.50px;top:872.50px;font-size:12px;line-height:18px;color:#8a8a8a;font-weight:400;letter-spacing:.55px">2、对管理数据进行分类，清晰、一目了然，快速查阅数据信息。</div>
<div class="bdg" style="left:103.20px;top:903.70px;width:18.6px;height:18.6px;font-size:11.5px;line-height:18.6px">2</div>
<div style="left:134.50px;top:904.00px;font-size:13px;line-height:18px;color:#222;font-weight:400;letter-spacing:.6px;-webkit-text-stroke:.15px #222">卡片信息：</div>
<div style="left:205.00px;top:904.00px;font-size:12px;line-height:18px;color:#222;font-weight:400;letter-spacing:.55px">基本信息、主要信息、处理流程三块组成</div>
<div style="left:134.50px;top:931.50px;font-size:13px;line-height:18px;color:#222;font-weight:400;letter-spacing:.6px;-webkit-text-stroke:.15px #222">元素包含：</div>
<div style="left:205.00px;top:931.50px;font-size:12px;line-height:18px;color:#8a8a8a;font-weight:400;letter-spacing:.55px">基本信息：申请人、申请部门、联系方式、单据编码、大区、省份、更变生效月份、更变原因</div>
<div style="left:205.00px;top:951.50px;font-size:12px;line-height:18px;color:#8a8a8a;font-weight:400;letter-spacing:.55px">主要信息：申请调整、附件</div>
<div style="left:205.00px;top:971.50px;font-size:12px;line-height:18px;color:#8a8a8a;font-weight:400;letter-spacing:.55px">处理流程：用户头像名称、流程状态、时间</div>
<div style="left:137.00px;top:1002.50px;font-size:13px;line-height:18px;color:#222;font-weight:400;letter-spacing:.6px;-webkit-text-stroke:.15px #222">交互说明：</div>
<div style="left:205.00px;top:1002.50px;font-size:12px;line-height:18px;color:#8a8a8a;font-weight:400;letter-spacing:.55px">点击标签可快速定位到相应的位置，可以通过线上滑动的方式查阅数据信息，基本信息为只读；</div>
<div style="left:205.00px;top:1019.70px;font-size:12px;line-height:18px;color:#8a8a8a;font-weight:400;letter-spacing:.55px">主要信息附件可以点击进行查看；处理流程显示相关操作用户信息和处理状态，处理流程时间</div>
<div style="left:205.00px;top:1036.90px;font-size:12px;line-height:18px;color:#8a8a8a;font-weight:400;letter-spacing:.55px">节点由上到下展示。</div>
<div class="bdg" style="left:103.20px;top:1212.70px;width:18.6px;height:18.6px;font-size:11.5px;line-height:18.6px">2</div>
<div style="left:134.50px;top:1213.00px;font-size:13px;line-height:18px;color:#222;font-weight:400;letter-spacing:.6px;-webkit-text-stroke:.15px #222">元素包含：</div>
<div style="left:205.00px;top:1213.00px;font-size:12px;line-height:18px;color:#222;font-weight:400;letter-spacing:.55px">审批按钮、沟通入口</div>
<div style="left:134.50px;top:1240.00px;font-size:13px;line-height:18px;color:#222;font-weight:400;letter-spacing:.6px;-webkit-text-stroke:.15px #222">审批按钮：</div>
<div style="left:205.00px;top:1240.00px;font-size:12px;line-height:18px;color:#8a8a8a;font-weight:400;letter-spacing:.55px">1、点击申请按钮进入审批流程，界面跳转入待审批界面</div>
<div style="left:205.00px;top:1259.50px;font-size:12px;line-height:18px;color:#8a8a8a;font-weight:400;letter-spacing:.55px">2、当审批流程完成后提示审批结果</div>
<div style="left:205.00px;top:1279.00px;font-size:12px;line-height:18px;color:#8a8a8a;font-weight:400;letter-spacing:.55px">3、完成审批后详情界面只能查看，不能进行再次审批的操作</div>
<div style="left:134.50px;top:1309.00px;font-size:13px;line-height:18px;color:#222;font-weight:400;letter-spacing:.6px;-webkit-text-stroke:.15px #222">沟通：</div>
<div style="left:205.00px;top:1309.00px;font-size:12px;line-height:18px;color:#8a8a8a;font-weight:400;letter-spacing:.55px">点击沟通进入沟通界面，对相应提交人进行交流沟通，对此条数据信息的进行沟通。从而达到</div>
<div style="left:205.00px;top:1329.50px;font-size:12px;line-height:18px;color:#8a8a8a;font-weight:400;letter-spacing:.55px">便捷，高效的解决问题。</div>
<div class="frame" style="left:75px;top:1400px;width:261px;height:550px;border-radius:21px;background:#fff"></div>
<div style="left:80.00px;top:1405.00px;width:375px;height:810px;transform:scale(0.66667);transform-origin:0 0;overflow:hidden;border-radius:24px;background:#fff;">
<div style="left:0.00px;top:274.50px;width:375.00px;height:535.50px;background:#f3f3f3;"></div>
<div style="left:33.00px;top:13.00px;font-size:15px;line-height:18px;color:#111;font-weight:700;">9:41</div>
<svg style="left:294.15px;top:16.80px;width:66.45px;height:12.08px;overflow:visible" viewBox="0 0 44 8"><g fill="#111"><rect x="0" y="5.1" width="2.4" height="2.7" rx=".6"/><rect x="3.2" y="3.8" width="2.4" height="4" rx=".5"/><rect x="6.4" y="2.1" width="2.4" height="5.7" rx=".5"/><rect x="9.6" y="0.5" width="2.4" height="7.3" rx=".5"/><path d="M18.21 6.06A2.6 2.6 0 0 1 21.89 6.06L20.05 7.9ZM16.37 4.22A5.2 5.2 0 0 1 23.73 4.22L22.52 5.43A3.5 3.5 0 0 0 17.58 5.43ZM14.53 2.38A7.8 7.8 0 0 1 25.57 2.38L24.36 3.59A6.1 6.1 0 0 0 15.74 3.59Z"/><rect x="30" y="1.7" width="12.2" height="4.8" rx="1"/></g><rect x="28.7" y="0.4" width="14.8" height="7.4" rx="2.2" fill="none" stroke="#111" stroke-opacity=".35" stroke-width=".8"/><rect x="44" y="2.9" width="1" height="2.4" rx=".5" fill="#111" opacity=".4"/></svg>
<svg style="left:22.00px;top:58.00px;width:9px;height:17px;overflow:visible" viewBox="0 0 9 17"><polyline points="9,0 0,8.5 9,17" fill="none" stroke="#333" stroke-width="1.8"/></svg>
<div style="left:187.50px;top:56.50px;font-size:16px;line-height:20px;color:#333;font-weight:400;transform:translateX(-50%);">详情</div>
<div style="left:0.00px;top:88.50px;width:375.00px;height:1.00px;background:#efefef;"></div>
<div style="left:15.75px;top:107.00px;font-size:16px;line-height:20px;color:#222;font-weight:400;-webkit-text-stroke:.3px #222">专业品牌渠道客户变更</div>
<div style="left:312.75px;top:109.00px;width:47.00px;height:19.50px;background:#fff;border:1px solid #c8c8c8"></div>
<div style="left:336.25px;top:111.75px;font-size:11.5px;line-height:14px;color:#888;font-weight:400;transform:translateX(-50%);">待处理</div>
<svg style="left:17.00px;top:141.50px;width:44px;height:44px" viewBox="0 0 40 40"><use href="#av1"/></svg>
<div style="left:73.00px;top:138.50px;font-size:14.5px;line-height:17px;color:#333;font-weight:400;-webkit-text-stroke:.2px #333">程颖颖</div>
<div style="left:73.00px;top:161.50px;font-size:12px;line-height:15px;color:#aaa;font-weight:400;">申请时间：<span style="letter-spacing:.045em">2023-04-21</span></div>
<div style="left:73.00px;top:182.00px;font-size:12px;line-height:15px;color:#aaa;font-weight:400;"><span style="letter-spacing:.045em">CHC</span>事业部/<span style="letter-spacing:.045em">OTC</span>事业部-区域/<span style="letter-spacing:.045em">OTC</span>事业部-江苏区</div>
<div style="left:73.00px;top:198.50px;font-size:12px;line-height:15px;color:#aaa;font-weight:400;">域/江苏-商务<span style="letter-spacing:.045em">1</span></div>
<div style="left:0.00px;top:222.50px;width:375.00px;height:1.00px;background:#f2f2f2;"></div>
<div style="left:72.50px;top:240.00px;font-size:14px;line-height:18px;color:#777;font-weight:400;transform:translateX(-50%);">基本信息</div>
<div style="left:188.00px;top:240.00px;font-size:14px;line-height:18px;color:#444;font-weight:400;transform:translateX(-50%);">主要信息</div>
<div style="left:297.75px;top:240.00px;font-size:14px;line-height:18px;color:#444;font-weight:400;transform:translateX(-50%);">处理流程</div>
<div style="left:46.50px;top:271.00px;width:52.50px;height:3.00px;background:#777;"></div>
<div style="left:15.75px;top:293.00px;width:343.75px;height:87.70px;background:#fff;"></div>
<div style="left:30.00px;top:306.75px;font-size:14px;line-height:18px;color:#222;font-weight:400;-webkit-text-stroke:.5px #222">基本信息</div>
<div style="left:28.50px;top:336.20px;width:315.00px;height:1.00px;background:#f0f0f0;"></div>
<div style="left:31.50px;top:350.00px;font-size:14px;line-height:17px;color:#aaa;font-weight:400;">主题</div>
<div style="left:342.60px;top:350.00px;font-size:14px;line-height:17px;color:#333;font-weight:400;transform:translateX(-100%);">客户信息有改动</div>
<div style="left:15.75px;top:397.50px;width:343.75px;height:132.50px;background:#fff;"></div>
<div style="left:30.00px;top:410.00px;font-size:14px;line-height:18px;color:#222;font-weight:400;-webkit-text-stroke:.5px #222">审批内容</div>
<div style="left:28.50px;top:441.00px;width:315.00px;height:1.00px;background:#f0f0f0;"></div>
<div style="left:31.50px;top:457.50px;font-size:14px;line-height:17px;color:#aaa;font-weight:400;">更新信息</div>
<div style="left:340.50px;top:457.50px;font-size:14px;line-height:17px;color:#333;font-weight:400;transform:translateX(-100%);">上海<span style="letter-spacing:.045em">xxx</span>有限责任公司</div>
<div style="left:100.50px;top:484.00px;width:243.90px;height:1.00px;background:#f0f0f0;"></div>
<div style="left:31.50px;top:497.00px;font-size:14px;line-height:17px;color:#aaa;font-weight:400;">所在区域</div>
<div style="left:340.50px;top:497.00px;font-size:14px;line-height:17px;color:#333;font-weight:400;transform:translateX(-100%);">上海</div>
<div style="left:15.75px;top:541.00px;width:343.75px;height:269.00px;background:#fff;"></div>
<div style="left:30.00px;top:554.40px;font-size:14px;line-height:18px;color:#222;font-weight:400;-webkit-text-stroke:.5px #222">主要信息</div>
<div style="left:28.50px;top:585.00px;width:315.00px;height:1.00px;background:#f0f0f0;"></div>
<div style="left:31.50px;top:599.00px;font-size:14px;line-height:17px;color:#aaa;font-weight:400;">申请调整</div>
<div style="left:211.50px;top:592.50px;width:111.75px;height:28.20px;background:#f5f5f5;border-radius:3px"></div>
<div style="left:267.40px;top:598.10px;font-size:13.5px;line-height:17px;color:#333;font-weight:400;transform:translateX(-50%);">申请调整明细表</div>
<div style="left:329.00px;top:592.50px;width:23.00px;height:28.20px;background:#f5f5f5;border-radius:3px"></div>
<div style="left:340.50px;top:598.10px;font-size:13.5px;line-height:17px;color:#333;font-weight:400;transform:translateX(-50%);"><span style="letter-spacing:.045em">+1</span></div>
<div style="left:100.50px;top:628.00px;width:243.90px;height:1.00px;background:#f0f0f0;"></div>
<div style="left:31.50px;top:633.50px;font-size:14px;line-height:17px;color:#aaa;font-weight:400;">附件</div>
<svg style="left:94.50px;top:638.00px;width:79.5px;height:79px" viewBox="0 0 80 80" preserveAspectRatio="none"><use href="#xls"/></svg>
<div style="left:0.00px;top:722.70px;width:375.00px;height:87.30px;background:#fff;"></div>
<div style="left:34.0px;top:749.0px;width:5px;height:5px;border-radius:50%;background:#222"></div>
<div style="left:44.0px;top:749.0px;width:5px;height:5px;border-radius:50%;background:#222"></div>
<div style="left:54.0px;top:749.0px;width:5px;height:5px;border-radius:50%;background:#222"></div>
<div style="left:46.50px;top:761.20px;font-size:10.5px;line-height:13px;color:#777;font-weight:400;transform:translateX(-50%);">更多</div>
<div style="left:87.75px;top:728.00px;width:130.75px;height:48.00px;background:#fff;border:1px solid #e2e2e2;border-radius:3px"></div>
<div style="left:153.00px;top:742.00px;font-size:16px;line-height:20px;color:#222;font-weight:400;transform:translateX(-50%);">拒绝</div>
<div style="left:229.00px;top:728.00px;width:130.50px;height:48.00px;background:#8d8d8d;border:1px solid #7d7d7d;border-radius:3px"></div>
<div style="left:294.00px;top:742.00px;font-size:16px;line-height:20px;color:#eee;font-weight:400;transform:translateX(-50%);">同意</div>
<div style="left:121.50px;top:797.50px;width:133.50px;height:6.00px;background:#111;border-radius:1.5px"></div>
</div>
<div style="left:321.00px;top:1476.00px;width:2px;height:112.00px;background:#a3cbfb"></div>
<div style="left:321.00px;top:1606.00px;width:2px;height:284.00px;background:#a3cbfb"></div>
<div style="left:321.00px;top:1907.00px;width:2px;height:38.00px;background:#a3cbfb"></div>
<div class="bdg" style="left:312.70px;top:1458.00px;width:18.6px;height:18.6px;font-size:11.5px;line-height:18.6px">1</div>
<div class="bdg" style="left:312.70px;top:1587.70px;width:18.6px;height:18.6px;font-size:11.5px;line-height:18.6px">2</div>
<div class="bdg" style="left:312.70px;top:1889.20px;width:18.6px;height:18.6px;font-size:11.5px;line-height:18.6px">3</div>
<div style="left:370.00px;top:1592.00px;width:375px;height:812px;transform:scale(0.44267);transform-origin:0 0;overflow:hidden;border-radius:30px;background:#fff;">
<div style="left:0.00px;top:274.50px;width:375.00px;height:537.50px;background:#f3f3f3;"></div>
<div style="left:33.00px;top:13.00px;font-size:15px;line-height:18px;color:#111;font-weight:700;">9:41</div>
<svg style="left:294.15px;top:16.80px;width:66.45px;height:12.08px;overflow:visible" viewBox="0 0 44 8"><g fill="#111"><rect x="0" y="5.1" width="2.4" height="2.7" rx=".6"/><rect x="3.2" y="3.8" width="2.4" height="4" rx=".5"/><rect x="6.4" y="2.1" width="2.4" height="5.7" rx=".5"/><rect x="9.6" y="0.5" width="2.4" height="7.3" rx=".5"/><path d="M18.21 6.06A2.6 2.6 0 0 1 21.89 6.06L20.05 7.9ZM16.37 4.22A5.2 5.2 0 0 1 23.73 4.22L22.52 5.43A3.5 3.5 0 0 0 17.58 5.43ZM14.53 2.38A7.8 7.8 0 0 1 25.57 2.38L24.36 3.59A6.1 6.1 0 0 0 15.74 3.59Z"/><rect x="30" y="1.7" width="12.2" height="4.8" rx="1"/></g><rect x="28.7" y="0.4" width="14.8" height="7.4" rx="2.2" fill="none" stroke="#111" stroke-opacity=".35" stroke-width=".8"/><rect x="44" y="2.9" width="1" height="2.4" rx=".5" fill="#111" opacity=".4"/></svg>
<svg style="left:22.00px;top:58.00px;width:9px;height:17px;overflow:visible" viewBox="0 0 9 17"><polyline points="9,0 0,8.5 9,17" fill="none" stroke="#333" stroke-width="1.8"/></svg>
<div style="left:187.50px;top:56.50px;font-size:16px;line-height:20px;color:#333;font-weight:400;transform:translateX(-50%);">详情</div>
<svg style="left:339px;top:60px;width:19px;height:19px" viewBox="0 0 19 19"><circle cx="8" cy="8" r="6" fill="none" stroke="#333" stroke-width="2"/><line x1="12.5" y1="12.5" x2="17" y2="17" stroke="#333" stroke-width="2.2"/></svg>
<div style="left:0.00px;top:88.50px;width:375.00px;height:1.00px;background:#efefef;"></div>
<div style="left:15.75px;top:107.00px;font-size:16px;line-height:20px;color:#222;font-weight:400;-webkit-text-stroke:.3px #222">专业品牌渠道客户变更</div>
<div style="left:312.75px;top:109.00px;width:47.00px;height:19.50px;background:#fff;border:1px solid #c8c8c8"></div>
<div style="left:336.25px;top:111.75px;font-size:11.5px;line-height:14px;color:#888;font-weight:400;transform:translateX(-50%);">待处理</div>
<svg style="left:17.00px;top:141.50px;width:44px;height:44px" viewBox="0 0 40 40"><use href="#av1"/></svg>
<div style="left:73.00px;top:138.50px;font-size:14.5px;line-height:17px;color:#333;font-weight:400;-webkit-text-stroke:.2px #333">程颖颖</div>
<div style="left:73.00px;top:161.50px;font-size:12px;line-height:15px;color:#aaa;font-weight:400;">申请时间：<span style="letter-spacing:.045em">2023-04-21</span></div>
<div style="left:73.00px;top:182.00px;font-size:12px;line-height:15px;color:#aaa;font-weight:400;"><span style="letter-spacing:.045em">CHC</span>事业部/<span style="letter-spacing:.045em">OTC</span>事业部-区域/<span style="letter-spacing:.045em">OTC</span>事业部-江苏区</div>
<div style="left:73.00px;top:198.50px;font-size:12px;line-height:15px;color:#aaa;font-weight:400;">域/江苏-商务<span style="letter-spacing:.045em">1</span></div>
<div style="left:0.00px;top:222.50px;width:375.00px;height:1.00px;background:#f2f2f2;"></div>
<div style="left:72.50px;top:240.00px;font-size:14px;line-height:18px;color:#777;font-weight:400;transform:translateX(-50%);">基本信息</div>
<div style="left:188.00px;top:240.00px;font-size:14px;line-height:18px;color:#444;font-weight:400;transform:translateX(-50%);">主要信息</div>
<div style="left:297.75px;top:240.00px;font-size:14px;line-height:18px;color:#444;font-weight:400;transform:translateX(-50%);">处理流程</div>
<div style="left:46.50px;top:271.00px;width:52.50px;height:3.00px;background:#777;"></div>
<div style="left:15.75px;top:293.00px;width:343.75px;height:87.70px;background:#fff;"></div>
<div style="left:30.00px;top:306.75px;font-size:14px;line-height:18px;color:#222;font-weight:400;-webkit-text-stroke:.5px #222">基本信息</div>
<div style="left:28.50px;top:336.20px;width:315.00px;height:1.00px;background:#f0f0f0;"></div>
<div style="left:31.50px;top:350.00px;font-size:14px;line-height:17px;color:#aaa;font-weight:400;">主题</div>
<div style="left:342.60px;top:350.00px;font-size:14px;line-height:17px;color:#bbb;font-weight:400;transform:translateX(-100%);">请填写</div>
<div style="left:15.75px;top:397.50px;width:343.75px;height:132.50px;background:#fff;"></div>
<div style="left:30.00px;top:410.00px;font-size:14px;line-height:18px;color:#222;font-weight:400;-webkit-text-stroke:.5px #222">审批内容</div>
<div style="left:28.50px;top:441.00px;width:315.00px;height:1.00px;background:#f0f0f0;"></div>
<div style="left:31.50px;top:454.50px;font-size:14px;line-height:17px;color:#555;font-weight:400;">申请人</div>
<div style="left:342.60px;top:454.50px;font-size:14px;line-height:17px;color:#bbb;font-weight:400;transform:translateX(-100%);">请填写</div>
<div style="left:100.50px;top:485.00px;width:243.90px;height:1.00px;background:#f0f0f0;"></div>
<div style="left:31.50px;top:499.10px;font-size:14px;line-height:17px;color:#555;font-weight:400;">申请部门</div>
<div style="left:326.00px;top:499.10px;font-size:14px;line-height:17px;color:#bbb;font-weight:400;transform:translateX(-100%);">请选择</div>
<svg style="left:333px;top:501px;width:6px;height:12px" viewBox="0 0 6 12"><polyline points="0,0 6,6 0,12" fill="none" stroke="#999" stroke-width="1.6"/></svg>
<div style="left:333px;top:501px;width:6px;height:11px"></div>
<div style="left:15.75px;top:541.00px;width:343.75px;height:271.00px;background:#fff;"></div>
<div style="left:30.00px;top:554.40px;font-size:14px;line-height:18px;color:#222;font-weight:400;-webkit-text-stroke:.5px #222">主要信息</div>
<div style="left:28.50px;top:585.00px;width:315.00px;height:1.00px;background:#f0f0f0;"></div>
<div style="left:31.50px;top:599.00px;font-size:14px;line-height:17px;color:#aaa;font-weight:400;">申请调整</div>
<div style="left:211.50px;top:592.50px;width:111.75px;height:28.20px;background:#f5f5f5;border-radius:3px"></div>
<div style="left:267.40px;top:598.10px;font-size:13.5px;line-height:17px;color:#333;font-weight:400;transform:translateX(-50%);">申请调整明细表</div>
<div style="left:329.00px;top:592.50px;width:23.00px;height:28.20px;background:#f5f5f5;border-radius:3px"></div>
<div style="left:340.50px;top:598.10px;font-size:13.5px;line-height:17px;color:#333;font-weight:400;transform:translateX(-50%);"><span style="letter-spacing:.045em">+1</span></div>
<div style="left:100.50px;top:628.00px;width:243.90px;height:1.00px;background:#f0f0f0;"></div>
<div style="left:31.50px;top:633.50px;font-size:14px;line-height:17px;color:#aaa;font-weight:400;">附件</div>
<svg style="left:94.50px;top:638.00px;width:79.5px;height:79px" viewBox="0 0 80 80" preserveAspectRatio="none"><use href="#xls"/></svg>
<div style="left:0.00px;top:0.00px;width:375.00px;height:587.30px;background:rgba(0,0,0,.58);"></div>
<div style="left:0.00px;top:587.30px;width:375.00px;height:224.70px;background:#fff;"></div>
<div style="left:0.00px;top:587.30px;width:375.00px;height:55.30px;background:#f8f8f8;"></div>
<div style="left:187.50px;top:610.00px;font-size:14.5px;line-height:18px;color:#333;font-weight:400;transform:translateX(-50%);">流程审批</div>
<svg style="left:345px;top:609px;width:16px;height:16px" viewBox="0 0 16 16"><path d="M1 1L15 15M15 1L1 15" stroke="#555" stroke-width="1.6"/></svg>
<div style="left:16.50px;top:665.70px;width:77.20px;height:79.00px;background:#fff;border:1.2px solid #ececec;border-radius:3px"></div>
<svg style="left:29.5px;top:669px;width:52px;height:54.6px" viewBox="18 8 40 42"><rect x="22" y="10" width="25" height="32" rx="3" fill="#7a7a7a"/><rect x="26" y="15" width="13" height="3" fill="#eee"/><rect x="26" y="21" width="16" height="3" fill="#eee"/><rect x="26" y="27" width="9" height="3" fill="#eee"/><circle cx="48" cy="37" r="9.5" fill="#8a8a8a" stroke="#fff" stroke-width="2"/><path d="M43 35l4 4 7-7" stroke="#fff" stroke-width="2.4" fill="none"/></svg>
<div style="left:55.10px;top:722.00px;font-size:11px;line-height:14px;color:#aaa;font-weight:400;transform:translateX(-50%);">通过</div>
<div style="left:105.50px;top:665.70px;width:76.80px;height:79.00px;background:#fff;border:1.2px solid #ececec;border-radius:3px"></div>
<svg style="left:118.5px;top:669px;width:52px;height:54.6px" viewBox="18 8 40 42"><rect x="22" y="10" width="25" height="32" rx="3" fill="#7a7a7a"/><rect x="26" y="15" width="13" height="3" fill="#eee"/><rect x="26" y="21" width="16" height="3" fill="#eee"/><rect x="26" y="27" width="9" height="3" fill="#eee"/><circle cx="48" cy="37" r="9.5" fill="#8a8a8a" stroke="#fff" stroke-width="2"/><path d="M44 33l8 8M52 33l-8 8" stroke="#fff" stroke-width="2.4" fill="none"/></svg>
<div style="left:143.90px;top:722.00px;font-size:11px;line-height:14px;color:#aaa;font-weight:400;transform:translateX(-50%);">驳回</div>
<div style="left:195.00px;top:665.70px;width:77.00px;height:79.00px;background:#fff;border:1.2px solid #ececec;border-radius:3px"></div>
<svg style="left:208px;top:669px;width:52px;height:54.6px" viewBox="18 8 40 42"><rect x="22" y="10" width="25" height="32" rx="3" fill="#7a7a7a"/><rect x="26" y="15" width="13" height="3" fill="#eee"/><rect x="26" y="21" width="16" height="3" fill="#eee"/><rect x="26" y="27" width="9" height="3" fill="#eee"/><circle cx="48" cy="37" r="9.5" fill="#8a8a8a" stroke="#fff" stroke-width="2"/><path d="M43 35h9l-2.5-2.5M53 39h-9l2.5 2.5" stroke="#fff" stroke-width="2" fill="none"/></svg>
<div style="left:233.50px;top:722.00px;font-size:11px;line-height:14px;color:#aaa;font-weight:400;transform:translateX(-50%);">转办</div>
<div style="left:283.00px;top:665.70px;width:77.00px;height:79.00px;background:#fff;border:1.2px solid #ececec;border-radius:3px"></div>
<svg style="left:296px;top:669px;width:52px;height:54.6px" viewBox="18 8 40 42"><rect x="22" y="10" width="25" height="32" rx="3" fill="#7a7a7a"/><rect x="26" y="15" width="13" height="3" fill="#eee"/><rect x="26" y="21" width="16" height="3" fill="#eee"/><rect x="26" y="27" width="9" height="3" fill="#eee"/><circle cx="48" cy="37" r="9.5" fill="#8a8a8a" stroke="#fff" stroke-width="2"/><path d="M43.5 37h9" stroke="#fff" stroke-width="2.6" fill="none"/></svg>
<div style="left:321.50px;top:722.00px;font-size:11px;line-height:14px;color:#aaa;font-weight:400;transform:translateX(-50%);">废弃</div>
<div style="left:122.00px;top:797.40px;width:133.00px;height:6.60px;background:#111;border-radius:1.5px"></div>
</div>
<div class="bdg" style="left:375.10px;top:1441.00px;width:18.6px;height:18.6px;font-size:11.5px;line-height:18.6px">1</div>
<div style="left:405.50px;top:1441.30px;font-size:13px;line-height:18px;color:#222;font-weight:400;letter-spacing:.6px;-webkit-text-stroke:.15px #222">元素包含：</div>
<div style="left:475.00px;top:1441.30px;font-size:12px;line-height:18px;color:#8a8a8a;font-weight:400;letter-spacing:.55px">顶部导航、用户信息（昵称、时间、部门）、状态</div>
<div style="left:405.50px;top:1474.60px;font-size:13px;line-height:18px;color:#222;font-weight:400;letter-spacing:.6px;-webkit-text-stroke:.15px #222">顶部导航：</div>
<div style="left:475.00px;top:1474.60px;font-size:12px;line-height:18px;color:#8a8a8a;font-weight:400;letter-spacing:.55px">1、点击顶部导航栏进行快速切换</div>
<div style="left:475.00px;top:1495.00px;font-size:12px;line-height:18px;color:#8a8a8a;font-weight:400;letter-spacing:.55px">2、对管理数据进行分类，清晰、一目了然，快速查阅数据信息。</div>
<div style="left:405.50px;top:1527.40px;font-size:13px;line-height:18px;color:#222;font-weight:400;letter-spacing:.6px;-webkit-text-stroke:.15px #222">用户信息：</div>
<div style="left:475.00px;top:1527.40px;font-size:12px;line-height:18px;color:#8a8a8a;font-weight:400;letter-spacing:.55px">头像、昵称、时间、部门信息</div>
<div style="left:475.00px;top:1547.70px;font-size:12px;line-height:18px;color:#8a8a8a;font-weight:400;letter-spacing:.55px">对所处理信息用户信息展示最上方，对审批用户进行重点突出。</div>
<div style="left:565.00px;top:1579.40px;font-size:13px;line-height:18px;color:#222;font-weight:400;letter-spacing:.6px;-webkit-text-stroke:.15px #222">状态：</div>
<div style="left:635.40px;top:1579.40px;font-size:12px;line-height:18px;color:#8a8a8a;font-weight:400;letter-spacing:.55px">处理状态进行展示，同卡片页面显示相同</div>
<div class="bdg" style="left:565.30px;top:1613.70px;width:18.6px;height:18.6px;font-size:11.5px;line-height:18.6px">2</div>
<div style="left:595.40px;top:1614.00px;font-size:13px;line-height:18px;color:#222;font-weight:400;letter-spacing:.6px;-webkit-text-stroke:.15px #222">元素包含：</div>
<div style="left:666.00px;top:1614.00px;font-size:12px;line-height:18px;color:#8a8a8a;font-weight:400;letter-spacing:.55px">标题信息、提示信息、详情信息</div>
<div style="left:595.40px;top:1647.30px;font-size:13px;line-height:18px;color:#222;font-weight:400;letter-spacing:.6px;-webkit-text-stroke:.15px #222">信息详情：</div>
<div style="left:666.00px;top:1647.30px;font-size:12px;line-height:18px;color:#8a8a8a;font-weight:400;letter-spacing:.55px">基本信息、审批信息、主要信息</div>
<div style="left:666.00px;top:1671.40px;font-size:12px;line-height:18px;color:#8a8a8a;font-weight:400;letter-spacing:.55px">基本信息展示在详情页面，申请调整明细表个点击进行查看表个详情，附件文件图片点击可以进行查看</div>
<div class="bdg" style="left:565.30px;top:1704.40px;width:18.6px;height:18.6px;font-size:11.5px;line-height:18.6px">3</div>
<div style="left:595.40px;top:1704.70px;font-size:13px;line-height:18px;color:#222;font-weight:400;letter-spacing:.6px;-webkit-text-stroke:.15px #222">元素包含：</div>
<div style="left:666.00px;top:1704.70px;font-size:12px;line-height:18px;color:#8a8a8a;font-weight:400;letter-spacing:.55px">更多、拒绝同意按钮</div>
<div style="left:590.00px;top:1745.00px;font-size:13px;line-height:18px;color:#222;font-weight:400;letter-spacing:.6px;-webkit-text-stroke:.15px #222">审批按钮：</div>
<div style="left:659.40px;top:1745.00px;font-size:12px;line-height:18px;color:#8a8a8a;font-weight:400;letter-spacing:.55px">1、拒绝、同意后审批流程，界面跳转入待审批界面</div>
<div style="left:659.40px;top:1765.00px;font-size:12px;line-height:18px;color:#8a8a8a;font-weight:400;letter-spacing:.55px">2、当审批流程完成后提示审批结果</div>
<div style="left:659.40px;top:1784.60px;font-size:12px;line-height:18px;color:#8a8a8a;font-weight:400;letter-spacing:.55px">3、完成审批后详情界面只能查看，不能进行再次审批的操作</div>
<div style="left:659.40px;top:1804.30px;font-size:12px;line-height:18px;color:#8a8a8a;font-weight:400;letter-spacing:.55px">4、点击更多弹出更多操作界面，进行更多审批操作</div>
</body></html>
